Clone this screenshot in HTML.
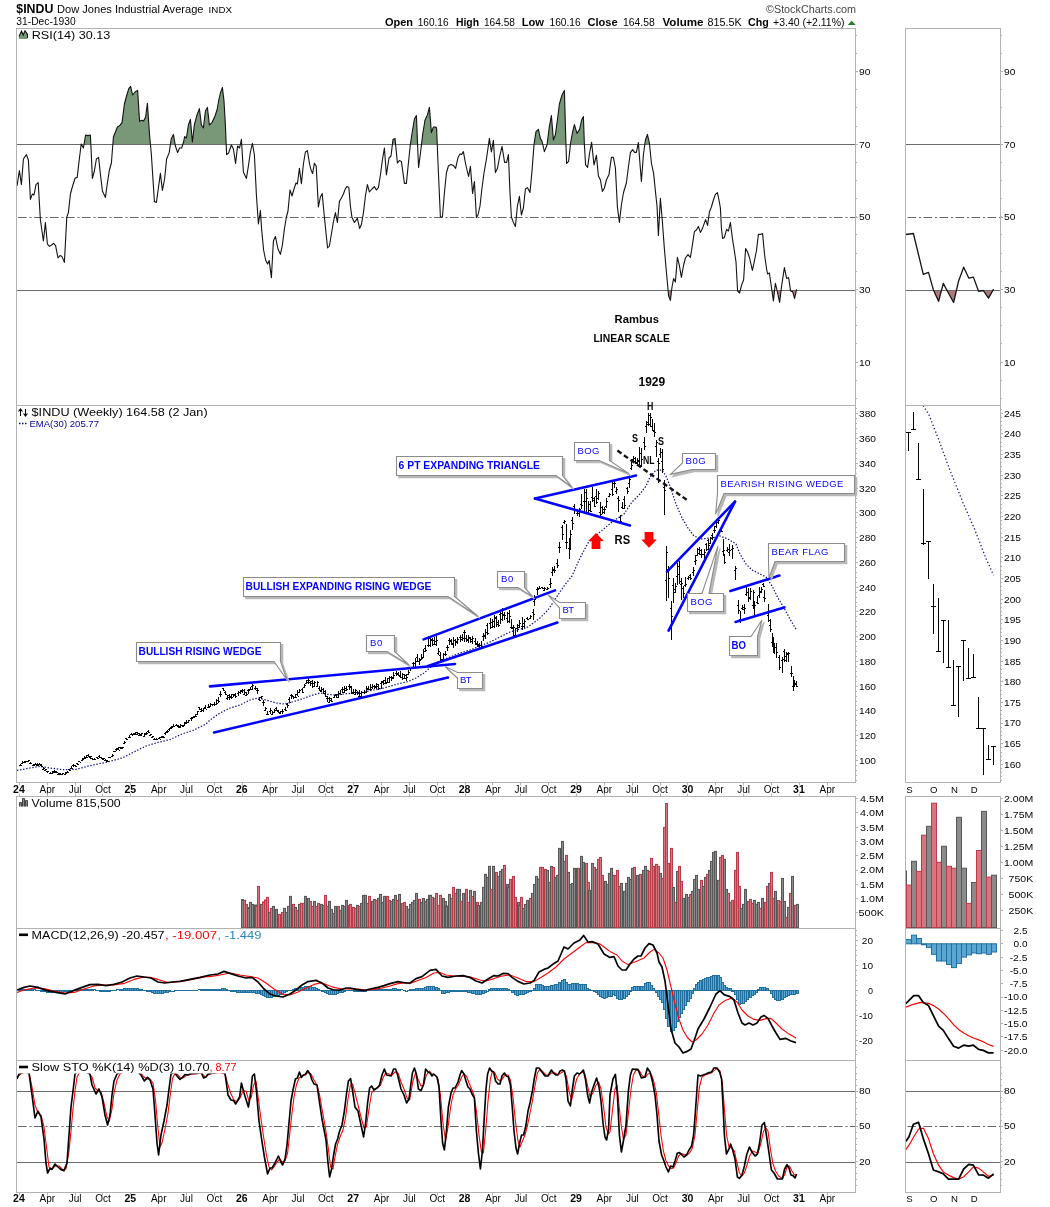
<!DOCTYPE html>
<html><head><meta charset="utf-8"><title>$INDU</title>
<style>html,body{margin:0;padding:0;background:#fff}svg{display:block}text{font-family:"Liberation Sans",sans-serif}</style>
</head><body>
<svg width="1050" height="1207" viewBox="0 0 1050 1207">
<rect width="1050" height="1207" fill="#fff"/>
<g opacity="0.99"><text x="16.3" y="13.4" font-size="12.5" font-weight="bold" fill="#000" text-anchor="start" textLength="37" lengthAdjust="spacingAndGlyphs" >$INDU</text><text x="57" y="13.4" font-size="11" font-weight="normal" fill="#000" text-anchor="start" textLength="146.5" lengthAdjust="spacingAndGlyphs" >Dow Jones Industrial Average</text><text x="208.6" y="13.4" font-size="9.5" font-weight="normal" fill="#000" text-anchor="start" textLength="23.4" lengthAdjust="spacingAndGlyphs" >INDX</text><text x="16.3" y="25.2" font-size="10" font-weight="normal" fill="#000" text-anchor="start" textLength="59.4" lengthAdjust="spacingAndGlyphs" >31-Dec-1930</text><text x="766" y="13" font-size="10" font-weight="normal" fill="#444" text-anchor="start" textLength="90" lengthAdjust="spacingAndGlyphs" >&#169;StockCharts.com</text><text x="385" y="26" font-size="11" font-weight="bold" fill="#000" text-anchor="start" textLength="28.1" lengthAdjust="spacingAndGlyphs" >Open</text><text x="417.7" y="26" font-size="10" font-weight="normal" fill="#000" text-anchor="start" textLength="30.9" lengthAdjust="spacingAndGlyphs" >160.16</text><text x="455.9" y="26" font-size="11" font-weight="bold" fill="#000" text-anchor="start" textLength="23.1" lengthAdjust="spacingAndGlyphs" >High</text><text x="484" y="26" font-size="10" font-weight="normal" fill="#000" text-anchor="start" textLength="30.9" lengthAdjust="spacingAndGlyphs" >164.58</text><text x="521.7" y="26" font-size="11" font-weight="bold" fill="#000" text-anchor="start" textLength="22.4" lengthAdjust="spacingAndGlyphs" >Low</text><text x="549.6" y="26" font-size="10" font-weight="normal" fill="#000" text-anchor="start" textLength="31" lengthAdjust="spacingAndGlyphs" >160.16</text><text x="587.5" y="26" font-size="11" font-weight="bold" fill="#000" text-anchor="start" textLength="30.2" lengthAdjust="spacingAndGlyphs" >Close</text><text x="623.1" y="26" font-size="10" font-weight="normal" fill="#000" text-anchor="start" textLength="31.6" lengthAdjust="spacingAndGlyphs" >164.58</text><text x="662.4" y="26" font-size="11" font-weight="bold" fill="#000" text-anchor="start" textLength="41.2" lengthAdjust="spacingAndGlyphs" >Volume</text><text x="707.6" y="26" font-size="10" font-weight="normal" fill="#000" text-anchor="start" textLength="34.1" lengthAdjust="spacingAndGlyphs" >815.5K</text><text x="748.1" y="26" font-size="11" font-weight="bold" fill="#000" text-anchor="start" textLength="20.7" lengthAdjust="spacingAndGlyphs" >Chg</text><text x="773.1" y="26" font-size="10" font-weight="normal" fill="#000" text-anchor="start" textLength="71.4" lengthAdjust="spacingAndGlyphs" >+3.40 (+2.11%)</text><polygon points="847.7,25 851.7,20.7 855.7,25" fill="#2a7a2a"/><clipPath id="c70"><rect x="16.5" y="28.5" width="839.0" height="116.0"/></clipPath><clipPath id="c30"><rect x="16.5" y="290.5" width="839.0" height="100"/></clipPath><polygon points="17.0,144.5 17.0,186.0 19.4,170.6 21.4,184.6 23.4,159.0 26.4,154.6 28.4,160.0 30.4,199.4 32.4,194.0 34.0,195.0 36.0,184.6 38.2,182.6 40.4,220.0 43.4,241.0 45.4,222.6 47.4,244.0 49.4,246.4 51.6,245.0 53.6,243.4 55.6,245.6 58.0,258.0 60.0,255.6 62.0,256.6 64.4,262.4 66.8,217.0 68.4,212.6 70.4,194.0 72.6,186.0 75.2,178.0 77.2,177.4 79.2,160.0 81.2,144.0 83.4,148.0 85.6,135.0 88.0,135.6 90.4,135.0 92.4,178.4 94.4,171.0 96.4,159.0 98.6,157.4 100.4,174.0 102.4,191.0 105.4,197.4 107.4,183.0 109.4,170.0 111.4,163.0 113.4,137.0 115.4,132.0 117.4,127.0 119.6,125.6 122.0,122.6 124.4,104.0 126.8,95.0 128.8,88.6 130.6,86.4 132.6,95.0 135.0,92.0 137.6,90.4 139.6,121.4 141.6,120.2 143.6,121.0 145.6,117.0 147.4,103.4 149.4,133.0 151.4,155.0 154.4,201.4 156.4,202.4 158.4,188.0 160.4,173.4 162.4,190.4 164.6,179.0 166.6,159.0 169.2,152.6 171.2,139.0 173.4,134.4 175.4,146.0 177.6,152.6 179.6,148.0 181.6,148.0 183.6,142.0 184.6,136.6 186.4,138.0 188.4,125.0 190.4,119.4 192.4,142.0 194.4,124.6 197.0,115.0 199.4,108.6 201.4,125.0 203.4,128.0 205.4,111.0 207.4,107.4 209.4,125.0 212.0,122.6 215.0,116.0 217.0,110.0 219.0,99.0 220.4,93.0 222.4,87.4 224.0,101.0 225.4,125.0 226.6,154.6 228.6,153.0 231.4,145.0 233.4,149.0 235.6,163.4 237.6,146.0 239.6,148.0 241.4,139.4 243.4,172.0 246.4,178.4 248.4,166.0 250.4,152.0 252.4,143.4 254.4,155.0 256.4,195.0 258.4,224.0 260.4,210.6 261.6,229.0 263.6,250.0 265.6,260.0 267.6,264.0 269.2,260.6 271.4,277.6 273.4,241.0 275.4,236.4 278.0,249.0 280.4,254.4 282.4,245.0 284.4,229.0 286.4,217.0 288.0,211.0 290.0,190.0 292.0,196.0 294.0,189.0 296.0,183.0 297.4,184.0 299.4,168.4 301.4,183.6 303.4,164.0 305.4,152.0 307.4,150.6 309.4,163.0 311.0,170.0 312.6,173.4 314.4,163.4 316.2,166.0 318.4,207.0 320.4,197.0 322.2,193.6 324.0,213.0 326.0,233.0 327.6,248.0 329.4,246.0 331.4,234.0 333.4,222.0 335.4,212.6 337.4,222.4 339.4,201.4 341.4,198.0 343.4,194.0 345.4,188.6 347.0,186.4 348.8,187.4 350.4,206.0 352.0,217.6 354.4,222.4 357.4,218.4 359.6,228.4 361.4,224.6 363.4,213.0 365.4,196.0 367.4,184.6 369.4,192.0 372.0,189.0 374.4,186.6 376.4,190.0 378.4,187.6 380.4,175.0 382.4,160.0 384.4,148.0 386.4,175.0 389.0,158.0 391.0,156.0 393.0,139.4 395.0,138.4 397.4,163.0 399.4,160.6 401.4,161.4 404.4,183.4 406.4,183.4 408.4,163.0 410.4,144.0 412.4,131.0 414.4,119.0 416.4,115.6 418.0,155.0 418.6,167.4 420.6,152.0 422.6,135.0 425.0,120.0 427.4,115.0 429.4,107.4 431.4,132.6 433.4,127.0 435.4,127.0 436.6,128.0 438.0,163.0 440.4,217.0 442.4,217.0 444.4,193.0 446.4,173.0 448.4,166.0 451.0,164.4 453.4,165.4 455.6,168.4 458.0,157.6 460.0,154.0 461.6,154.4 463.4,151.6 465.4,163.0 467.0,170.0 468.6,176.4 470.4,166.4 472.6,193.4 474.4,181.6 476.4,217.4 478.0,215.0 480.0,206.0 482.0,188.0 484.0,173.0 486.6,158.0 489.4,138.4 491.4,152.0 493.4,140.4 495.4,172.6 497.4,168.6 499.6,157.0 502.0,146.4 504.6,162.4 506.6,162.4 508.4,154.6 510.0,193.0 511.4,217.0 513.4,222.4 515.4,226.4 517.4,206.0 519.4,196.4 521.4,215.0 523.4,208.0 525.4,189.0 527.4,187.6 530.0,192.4 532.0,171.0 534.0,144.6 536.0,131.6 538.4,129.4 540.4,138.6 542.0,141.0 544.4,151.6 547.0,145.0 549.4,126.4 551.4,115.6 553.4,140.0 555.4,134.6 557.4,120.0 559.4,104.0 562.0,95.0 564.4,90.4 565.6,133.0 566.6,163.4 568.6,161.4 570.6,143.0 572.6,132.0 574.4,124.6 577.0,133.4 579.6,129.4 581.6,120.0 583.4,116.6 584.4,145.0 585.6,165.0 587.6,167.4 589.6,153.0 591.6,142.4 594.0,165.0 596.4,155.4 598.4,176.0 600.4,180.0 602.4,191.4 604.4,188.0 606.4,180.0 609.0,174.4 611.4,157.4 613.4,157.4 615.4,168.0 617.4,207.0 619.4,222.4 621.4,205.0 623.4,193.0 626.4,183.0 628.4,167.0 630.4,152.6 632.6,149.6 634.6,152.4 636.4,152.4 638.4,142.6 640.0,164.0 641.4,181.4 643.4,155.0 645.4,140.0 647.4,134.4 649.4,143.0 651.4,163.0 653.6,173.4 655.6,193.0 657.0,206.0 658.4,235.4 660.4,198.4 662.4,222.0 664.4,249.0 666.4,272.0 668.6,296.0 670.4,300.4 672.0,287.0 673.6,278.6 675.4,282.0 677.4,257.4 679.4,265.6 681.4,277.4 683.4,266.0 685.4,258.0 688.0,254.6 690.4,257.4 692.4,245.0 694.4,231.6 696.4,230.0 698.4,226.4 700.4,232.4 702.4,228.6 705.6,219.6 707.6,225.4 709.4,212.0 711.4,207.0 713.4,200.0 715.4,194.4 717.4,192.6 719.0,200.0 720.4,208.0 721.4,228.0 722.6,238.4 724.4,237.4 726.6,229.4 728.4,231.0 730.4,222.6 732.4,238.4 734.4,251.0 736.0,262.0 737.6,291.0 739.6,293.0 741.6,285.0 743.6,280.0 745.6,248.6 747.6,252.0 749.6,258.0 752.4,270.4 754.4,261.0 756.4,251.0 758.4,234.4 760.4,234.4 762.6,233.6 764.6,255.0 766.6,269.0 767.6,274.0 769.4,273.0 771.4,287.0 773.4,301.0 775.4,283.4 777.4,292.0 779.6,302.4 781.6,286.0 784.4,267.6 786.6,278.4 788.6,277.6 790.6,291.0 792.6,291.6 794.6,298.4 796.6,289.4 796.6,144.5" fill="#779777" clip-path="url(#c70)"/><polygon points="17.0,290.5 17.0,186.0 19.4,170.6 21.4,184.6 23.4,159.0 26.4,154.6 28.4,160.0 30.4,199.4 32.4,194.0 34.0,195.0 36.0,184.6 38.2,182.6 40.4,220.0 43.4,241.0 45.4,222.6 47.4,244.0 49.4,246.4 51.6,245.0 53.6,243.4 55.6,245.6 58.0,258.0 60.0,255.6 62.0,256.6 64.4,262.4 66.8,217.0 68.4,212.6 70.4,194.0 72.6,186.0 75.2,178.0 77.2,177.4 79.2,160.0 81.2,144.0 83.4,148.0 85.6,135.0 88.0,135.6 90.4,135.0 92.4,178.4 94.4,171.0 96.4,159.0 98.6,157.4 100.4,174.0 102.4,191.0 105.4,197.4 107.4,183.0 109.4,170.0 111.4,163.0 113.4,137.0 115.4,132.0 117.4,127.0 119.6,125.6 122.0,122.6 124.4,104.0 126.8,95.0 128.8,88.6 130.6,86.4 132.6,95.0 135.0,92.0 137.6,90.4 139.6,121.4 141.6,120.2 143.6,121.0 145.6,117.0 147.4,103.4 149.4,133.0 151.4,155.0 154.4,201.4 156.4,202.4 158.4,188.0 160.4,173.4 162.4,190.4 164.6,179.0 166.6,159.0 169.2,152.6 171.2,139.0 173.4,134.4 175.4,146.0 177.6,152.6 179.6,148.0 181.6,148.0 183.6,142.0 184.6,136.6 186.4,138.0 188.4,125.0 190.4,119.4 192.4,142.0 194.4,124.6 197.0,115.0 199.4,108.6 201.4,125.0 203.4,128.0 205.4,111.0 207.4,107.4 209.4,125.0 212.0,122.6 215.0,116.0 217.0,110.0 219.0,99.0 220.4,93.0 222.4,87.4 224.0,101.0 225.4,125.0 226.6,154.6 228.6,153.0 231.4,145.0 233.4,149.0 235.6,163.4 237.6,146.0 239.6,148.0 241.4,139.4 243.4,172.0 246.4,178.4 248.4,166.0 250.4,152.0 252.4,143.4 254.4,155.0 256.4,195.0 258.4,224.0 260.4,210.6 261.6,229.0 263.6,250.0 265.6,260.0 267.6,264.0 269.2,260.6 271.4,277.6 273.4,241.0 275.4,236.4 278.0,249.0 280.4,254.4 282.4,245.0 284.4,229.0 286.4,217.0 288.0,211.0 290.0,190.0 292.0,196.0 294.0,189.0 296.0,183.0 297.4,184.0 299.4,168.4 301.4,183.6 303.4,164.0 305.4,152.0 307.4,150.6 309.4,163.0 311.0,170.0 312.6,173.4 314.4,163.4 316.2,166.0 318.4,207.0 320.4,197.0 322.2,193.6 324.0,213.0 326.0,233.0 327.6,248.0 329.4,246.0 331.4,234.0 333.4,222.0 335.4,212.6 337.4,222.4 339.4,201.4 341.4,198.0 343.4,194.0 345.4,188.6 347.0,186.4 348.8,187.4 350.4,206.0 352.0,217.6 354.4,222.4 357.4,218.4 359.6,228.4 361.4,224.6 363.4,213.0 365.4,196.0 367.4,184.6 369.4,192.0 372.0,189.0 374.4,186.6 376.4,190.0 378.4,187.6 380.4,175.0 382.4,160.0 384.4,148.0 386.4,175.0 389.0,158.0 391.0,156.0 393.0,139.4 395.0,138.4 397.4,163.0 399.4,160.6 401.4,161.4 404.4,183.4 406.4,183.4 408.4,163.0 410.4,144.0 412.4,131.0 414.4,119.0 416.4,115.6 418.0,155.0 418.6,167.4 420.6,152.0 422.6,135.0 425.0,120.0 427.4,115.0 429.4,107.4 431.4,132.6 433.4,127.0 435.4,127.0 436.6,128.0 438.0,163.0 440.4,217.0 442.4,217.0 444.4,193.0 446.4,173.0 448.4,166.0 451.0,164.4 453.4,165.4 455.6,168.4 458.0,157.6 460.0,154.0 461.6,154.4 463.4,151.6 465.4,163.0 467.0,170.0 468.6,176.4 470.4,166.4 472.6,193.4 474.4,181.6 476.4,217.4 478.0,215.0 480.0,206.0 482.0,188.0 484.0,173.0 486.6,158.0 489.4,138.4 491.4,152.0 493.4,140.4 495.4,172.6 497.4,168.6 499.6,157.0 502.0,146.4 504.6,162.4 506.6,162.4 508.4,154.6 510.0,193.0 511.4,217.0 513.4,222.4 515.4,226.4 517.4,206.0 519.4,196.4 521.4,215.0 523.4,208.0 525.4,189.0 527.4,187.6 530.0,192.4 532.0,171.0 534.0,144.6 536.0,131.6 538.4,129.4 540.4,138.6 542.0,141.0 544.4,151.6 547.0,145.0 549.4,126.4 551.4,115.6 553.4,140.0 555.4,134.6 557.4,120.0 559.4,104.0 562.0,95.0 564.4,90.4 565.6,133.0 566.6,163.4 568.6,161.4 570.6,143.0 572.6,132.0 574.4,124.6 577.0,133.4 579.6,129.4 581.6,120.0 583.4,116.6 584.4,145.0 585.6,165.0 587.6,167.4 589.6,153.0 591.6,142.4 594.0,165.0 596.4,155.4 598.4,176.0 600.4,180.0 602.4,191.4 604.4,188.0 606.4,180.0 609.0,174.4 611.4,157.4 613.4,157.4 615.4,168.0 617.4,207.0 619.4,222.4 621.4,205.0 623.4,193.0 626.4,183.0 628.4,167.0 630.4,152.6 632.6,149.6 634.6,152.4 636.4,152.4 638.4,142.6 640.0,164.0 641.4,181.4 643.4,155.0 645.4,140.0 647.4,134.4 649.4,143.0 651.4,163.0 653.6,173.4 655.6,193.0 657.0,206.0 658.4,235.4 660.4,198.4 662.4,222.0 664.4,249.0 666.4,272.0 668.6,296.0 670.4,300.4 672.0,287.0 673.6,278.6 675.4,282.0 677.4,257.4 679.4,265.6 681.4,277.4 683.4,266.0 685.4,258.0 688.0,254.6 690.4,257.4 692.4,245.0 694.4,231.6 696.4,230.0 698.4,226.4 700.4,232.4 702.4,228.6 705.6,219.6 707.6,225.4 709.4,212.0 711.4,207.0 713.4,200.0 715.4,194.4 717.4,192.6 719.0,200.0 720.4,208.0 721.4,228.0 722.6,238.4 724.4,237.4 726.6,229.4 728.4,231.0 730.4,222.6 732.4,238.4 734.4,251.0 736.0,262.0 737.6,291.0 739.6,293.0 741.6,285.0 743.6,280.0 745.6,248.6 747.6,252.0 749.6,258.0 752.4,270.4 754.4,261.0 756.4,251.0 758.4,234.4 760.4,234.4 762.6,233.6 764.6,255.0 766.6,269.0 767.6,274.0 769.4,273.0 771.4,287.0 773.4,301.0 775.4,283.4 777.4,292.0 779.6,302.4 781.6,286.0 784.4,267.6 786.6,278.4 788.6,277.6 790.6,291.0 792.6,291.6 794.6,298.4 796.6,289.4 796.6,290.5" fill="#b07878" clip-path="url(#c30)"/><clipPath id="c30s"><rect x="905.5" y="290.5" width="95.0" height="100"/></clipPath><polygon points="905.8,290.5 905.8,234.5 913.4,233.5 923.3,274.3 928.5,272.4 933.4,289.9 938.6,301.3 943.3,283.4 948.5,293.3 953.6,302.5 958.6,281.0 963.7,267.2 968.7,278.1 973.4,277.1 978.6,291.4 983.3,290.5 988.5,298.1 993.6,289.1 993.6,290.5" fill="#b07878" clip-path="url(#c30s)"/><line x1="16.5" y1="144.5" x2="855.5" y2="144.5" stroke="#6a6a6a" stroke-width="1"/><line x1="905.5" y1="144.5" x2="1000.5" y2="144.5" stroke="#6a6a6a" stroke-width="1"/><line x1="16.5" y1="290.5" x2="855.5" y2="290.5" stroke="#6a6a6a" stroke-width="1"/><line x1="905.5" y1="290.5" x2="1000.5" y2="290.5" stroke="#6a6a6a" stroke-width="1"/><line x1="18.0" y1="217.5" x2="855.5" y2="217.5" stroke="#666" stroke-width="1" stroke-dasharray="8.5,3,2,2.5"/><line x1="907.5" y1="217.5" x2="1000.5" y2="217.5" stroke="#666" stroke-width="1" stroke-dasharray="8.5,3,2,2.5"/><polyline points="17.0,186.0 19.4,170.6 21.4,184.6 23.4,159.0 26.4,154.6 28.4,160.0 30.4,199.4 32.4,194.0 34.0,195.0 36.0,184.6 38.2,182.6 40.4,220.0 43.4,241.0 45.4,222.6 47.4,244.0 49.4,246.4 51.6,245.0 53.6,243.4 55.6,245.6 58.0,258.0 60.0,255.6 62.0,256.6 64.4,262.4 66.8,217.0 68.4,212.6 70.4,194.0 72.6,186.0 75.2,178.0 77.2,177.4 79.2,160.0 81.2,144.0 83.4,148.0 85.6,135.0 88.0,135.6 90.4,135.0 92.4,178.4 94.4,171.0 96.4,159.0 98.6,157.4 100.4,174.0 102.4,191.0 105.4,197.4 107.4,183.0 109.4,170.0 111.4,163.0 113.4,137.0 115.4,132.0 117.4,127.0 119.6,125.6 122.0,122.6 124.4,104.0 126.8,95.0 128.8,88.6 130.6,86.4 132.6,95.0 135.0,92.0 137.6,90.4 139.6,121.4 141.6,120.2 143.6,121.0 145.6,117.0 147.4,103.4 149.4,133.0 151.4,155.0 154.4,201.4 156.4,202.4 158.4,188.0 160.4,173.4 162.4,190.4 164.6,179.0 166.6,159.0 169.2,152.6 171.2,139.0 173.4,134.4 175.4,146.0 177.6,152.6 179.6,148.0 181.6,148.0 183.6,142.0 184.6,136.6 186.4,138.0 188.4,125.0 190.4,119.4 192.4,142.0 194.4,124.6 197.0,115.0 199.4,108.6 201.4,125.0 203.4,128.0 205.4,111.0 207.4,107.4 209.4,125.0 212.0,122.6 215.0,116.0 217.0,110.0 219.0,99.0 220.4,93.0 222.4,87.4 224.0,101.0 225.4,125.0 226.6,154.6 228.6,153.0 231.4,145.0 233.4,149.0 235.6,163.4 237.6,146.0 239.6,148.0 241.4,139.4 243.4,172.0 246.4,178.4 248.4,166.0 250.4,152.0 252.4,143.4 254.4,155.0 256.4,195.0 258.4,224.0 260.4,210.6 261.6,229.0 263.6,250.0 265.6,260.0 267.6,264.0 269.2,260.6 271.4,277.6 273.4,241.0 275.4,236.4 278.0,249.0 280.4,254.4 282.4,245.0 284.4,229.0 286.4,217.0 288.0,211.0 290.0,190.0 292.0,196.0 294.0,189.0 296.0,183.0 297.4,184.0 299.4,168.4 301.4,183.6 303.4,164.0 305.4,152.0 307.4,150.6 309.4,163.0 311.0,170.0 312.6,173.4 314.4,163.4 316.2,166.0 318.4,207.0 320.4,197.0 322.2,193.6 324.0,213.0 326.0,233.0 327.6,248.0 329.4,246.0 331.4,234.0 333.4,222.0 335.4,212.6 337.4,222.4 339.4,201.4 341.4,198.0 343.4,194.0 345.4,188.6 347.0,186.4 348.8,187.4 350.4,206.0 352.0,217.6 354.4,222.4 357.4,218.4 359.6,228.4 361.4,224.6 363.4,213.0 365.4,196.0 367.4,184.6 369.4,192.0 372.0,189.0 374.4,186.6 376.4,190.0 378.4,187.6 380.4,175.0 382.4,160.0 384.4,148.0 386.4,175.0 389.0,158.0 391.0,156.0 393.0,139.4 395.0,138.4 397.4,163.0 399.4,160.6 401.4,161.4 404.4,183.4 406.4,183.4 408.4,163.0 410.4,144.0 412.4,131.0 414.4,119.0 416.4,115.6 418.0,155.0 418.6,167.4 420.6,152.0 422.6,135.0 425.0,120.0 427.4,115.0 429.4,107.4 431.4,132.6 433.4,127.0 435.4,127.0 436.6,128.0 438.0,163.0 440.4,217.0 442.4,217.0 444.4,193.0 446.4,173.0 448.4,166.0 451.0,164.4 453.4,165.4 455.6,168.4 458.0,157.6 460.0,154.0 461.6,154.4 463.4,151.6 465.4,163.0 467.0,170.0 468.6,176.4 470.4,166.4 472.6,193.4 474.4,181.6 476.4,217.4 478.0,215.0 480.0,206.0 482.0,188.0 484.0,173.0 486.6,158.0 489.4,138.4 491.4,152.0 493.4,140.4 495.4,172.6 497.4,168.6 499.6,157.0 502.0,146.4 504.6,162.4 506.6,162.4 508.4,154.6 510.0,193.0 511.4,217.0 513.4,222.4 515.4,226.4 517.4,206.0 519.4,196.4 521.4,215.0 523.4,208.0 525.4,189.0 527.4,187.6 530.0,192.4 532.0,171.0 534.0,144.6 536.0,131.6 538.4,129.4 540.4,138.6 542.0,141.0 544.4,151.6 547.0,145.0 549.4,126.4 551.4,115.6 553.4,140.0 555.4,134.6 557.4,120.0 559.4,104.0 562.0,95.0 564.4,90.4 565.6,133.0 566.6,163.4 568.6,161.4 570.6,143.0 572.6,132.0 574.4,124.6 577.0,133.4 579.6,129.4 581.6,120.0 583.4,116.6 584.4,145.0 585.6,165.0 587.6,167.4 589.6,153.0 591.6,142.4 594.0,165.0 596.4,155.4 598.4,176.0 600.4,180.0 602.4,191.4 604.4,188.0 606.4,180.0 609.0,174.4 611.4,157.4 613.4,157.4 615.4,168.0 617.4,207.0 619.4,222.4 621.4,205.0 623.4,193.0 626.4,183.0 628.4,167.0 630.4,152.6 632.6,149.6 634.6,152.4 636.4,152.4 638.4,142.6 640.0,164.0 641.4,181.4 643.4,155.0 645.4,140.0 647.4,134.4 649.4,143.0 651.4,163.0 653.6,173.4 655.6,193.0 657.0,206.0 658.4,235.4 660.4,198.4 662.4,222.0 664.4,249.0 666.4,272.0 668.6,296.0 670.4,300.4 672.0,287.0 673.6,278.6 675.4,282.0 677.4,257.4 679.4,265.6 681.4,277.4 683.4,266.0 685.4,258.0 688.0,254.6 690.4,257.4 692.4,245.0 694.4,231.6 696.4,230.0 698.4,226.4 700.4,232.4 702.4,228.6 705.6,219.6 707.6,225.4 709.4,212.0 711.4,207.0 713.4,200.0 715.4,194.4 717.4,192.6 719.0,200.0 720.4,208.0 721.4,228.0 722.6,238.4 724.4,237.4 726.6,229.4 728.4,231.0 730.4,222.6 732.4,238.4 734.4,251.0 736.0,262.0 737.6,291.0 739.6,293.0 741.6,285.0 743.6,280.0 745.6,248.6 747.6,252.0 749.6,258.0 752.4,270.4 754.4,261.0 756.4,251.0 758.4,234.4 760.4,234.4 762.6,233.6 764.6,255.0 766.6,269.0 767.6,274.0 769.4,273.0 771.4,287.0 773.4,301.0 775.4,283.4 777.4,292.0 779.6,302.4 781.6,286.0 784.4,267.6 786.6,278.4 788.6,277.6 790.6,291.0 792.6,291.6 794.6,298.4 796.6,289.4" fill="none" stroke="#111" stroke-width="1.1" stroke-linejoin="round"/><polyline points="905.8,234.5 913.4,233.5 923.3,274.3 928.5,272.4 933.4,289.9 938.6,301.3 943.3,283.4 948.5,293.3 953.6,302.5 958.6,281.0 963.7,267.2 968.7,278.1 973.4,277.1 978.6,291.4 983.3,290.5 988.5,298.1 993.6,289.1" fill="none" stroke="#111" stroke-width="1.3" stroke-linejoin="round"/><text x="859" y="75.18999999999997" font-size="9.2" font-weight="normal" fill="#000" text-anchor="start" textLength="11.4" lengthAdjust="spacingAndGlyphs" >90</text><text x="1004" y="75.18999999999997" font-size="9.2" font-weight="normal" fill="#000" text-anchor="start" textLength="11.4" lengthAdjust="spacingAndGlyphs" >90</text><text x="859" y="147.76999999999998" font-size="9.2" font-weight="normal" fill="#000" text-anchor="start" textLength="11.4" lengthAdjust="spacingAndGlyphs" >70</text><text x="1004" y="147.76999999999998" font-size="9.2" font-weight="normal" fill="#000" text-anchor="start" textLength="11.4" lengthAdjust="spacingAndGlyphs" >70</text><text x="859" y="220.35" font-size="9.2" font-weight="normal" fill="#000" text-anchor="start" textLength="11.4" lengthAdjust="spacingAndGlyphs" >50</text><text x="1004" y="220.35" font-size="9.2" font-weight="normal" fill="#000" text-anchor="start" textLength="11.4" lengthAdjust="spacingAndGlyphs" >50</text><text x="859" y="292.92999999999995" font-size="9.2" font-weight="normal" fill="#000" text-anchor="start" textLength="11.4" lengthAdjust="spacingAndGlyphs" >30</text><text x="1004" y="292.92999999999995" font-size="9.2" font-weight="normal" fill="#000" text-anchor="start" textLength="11.4" lengthAdjust="spacingAndGlyphs" >30</text><text x="859" y="365.50999999999993" font-size="9.2" font-weight="normal" fill="#000" text-anchor="start" textLength="11.4" lengthAdjust="spacingAndGlyphs" >10</text><text x="1004" y="365.50999999999993" font-size="9.2" font-weight="normal" fill="#000" text-anchor="start" textLength="11.4" lengthAdjust="spacingAndGlyphs" >10</text><path d="M18.8,39 L19,36.5 L21.5,31 L23.2,35 L25,30.8 L27.5,33.5 L27.5,39 Z" fill="#779777"/><path d="M19,36.5 L21.5,31 L23.2,35 L25,30.8 L27.5,34.5 V38" fill="none" stroke="#111" stroke-width="1.1"/><text x="31.7" y="38.7" font-size="10" font-weight="normal" fill="#000" text-anchor="start" textLength="78.6" lengthAdjust="spacingAndGlyphs" >RSI(14) 30.13</text><text x="614.6" y="322.9" font-size="11" font-weight="bold" fill="#000" text-anchor="start" textLength="44.4" lengthAdjust="spacingAndGlyphs" >Rambus</text><text x="593.5" y="341.9" font-size="11" font-weight="bold" fill="#000" text-anchor="start" textLength="76.5" lengthAdjust="spacingAndGlyphs" >LINEAR SCALE</text><text x="638.5" y="385.8" font-size="12" font-weight="bold" fill="#000" text-anchor="start" textLength="26.7" lengthAdjust="spacingAndGlyphs" >1929</text><path d="M856.0,35.5h1 M856.0,53.5h1 M856.0,71.5h1 M856.0,89.5h1 M856.0,107.5h1 M856.0,126.5h1 M856.0,144.5h1 M856.0,162.5h1 M856.0,180.5h1 M856.0,198.5h1 M856.0,216.5h1 M856.0,234.5h1 M856.0,253.5h1 M856.0,271.5h1 M856.0,289.5h1 M856.0,307.5h1 M856.0,325.5h1 M856.0,343.5h1 M856.0,362.5h1 M856.0,380.5h1 M856.0,398.5h1 M856.0,71.5h2 M856.0,144.5h2 M856.0,217.5h2 M856.0,289.5h2 M856.0,362.5h2" stroke="#b2b2b2" stroke-width="1" fill="none" shape-rendering="crispEdges"/><path d="M1001.0,35.5h1 M1001.0,53.5h1 M1001.0,71.5h1 M1001.0,89.5h1 M1001.0,107.5h1 M1001.0,126.5h1 M1001.0,144.5h1 M1001.0,162.5h1 M1001.0,180.5h1 M1001.0,198.5h1 M1001.0,216.5h1 M1001.0,234.5h1 M1001.0,253.5h1 M1001.0,271.5h1 M1001.0,289.5h1 M1001.0,307.5h1 M1001.0,325.5h1 M1001.0,343.5h1 M1001.0,362.5h1 M1001.0,380.5h1 M1001.0,398.5h1 M1001.0,71.5h2 M1001.0,144.5h2 M1001.0,217.5h2 M1001.0,289.5h2 M1001.0,362.5h2" stroke="#b2b2b2" stroke-width="1" fill="none" shape-rendering="crispEdges"/><text x="859" y="763.8" font-size="9.2" font-weight="normal" fill="#000" text-anchor="start" textLength="17" lengthAdjust="spacingAndGlyphs" >100</text><text x="859" y="739.05" font-size="9.2" font-weight="normal" fill="#000" text-anchor="start" textLength="17" lengthAdjust="spacingAndGlyphs" >120</text><text x="859" y="714.3" font-size="9.2" font-weight="normal" fill="#000" text-anchor="start" textLength="17" lengthAdjust="spacingAndGlyphs" >140</text><text x="859" y="689.55" font-size="9.2" font-weight="normal" fill="#000" text-anchor="start" textLength="17" lengthAdjust="spacingAndGlyphs" >160</text><text x="859" y="664.8" font-size="9.2" font-weight="normal" fill="#000" text-anchor="start" textLength="17" lengthAdjust="spacingAndGlyphs" >180</text><text x="859" y="640.05" font-size="9.2" font-weight="normal" fill="#000" text-anchor="start" textLength="17" lengthAdjust="spacingAndGlyphs" >200</text><text x="859" y="615.3" font-size="9.2" font-weight="normal" fill="#000" text-anchor="start" textLength="17" lengthAdjust="spacingAndGlyphs" >220</text><text x="859" y="590.55" font-size="9.2" font-weight="normal" fill="#000" text-anchor="start" textLength="17" lengthAdjust="spacingAndGlyphs" >240</text><text x="859" y="565.8" font-size="9.2" font-weight="normal" fill="#000" text-anchor="start" textLength="17" lengthAdjust="spacingAndGlyphs" >260</text><text x="859" y="541.05" font-size="9.2" font-weight="normal" fill="#000" text-anchor="start" textLength="17" lengthAdjust="spacingAndGlyphs" >280</text><text x="859" y="516.3" font-size="9.2" font-weight="normal" fill="#000" text-anchor="start" textLength="17" lengthAdjust="spacingAndGlyphs" >300</text><text x="859" y="491.54999999999995" font-size="9.2" font-weight="normal" fill="#000" text-anchor="start" textLength="17" lengthAdjust="spacingAndGlyphs" >320</text><text x="859" y="466.79999999999995" font-size="9.2" font-weight="normal" fill="#000" text-anchor="start" textLength="17" lengthAdjust="spacingAndGlyphs" >340</text><text x="859" y="442.04999999999995" font-size="9.2" font-weight="normal" fill="#000" text-anchor="start" textLength="17" lengthAdjust="spacingAndGlyphs" >360</text><text x="859" y="417.29999999999995" font-size="9.2" font-weight="normal" fill="#000" text-anchor="start" textLength="17" lengthAdjust="spacingAndGlyphs" >380</text><text x="1004" y="767.8" font-size="9.2" font-weight="normal" fill="#000" text-anchor="start" textLength="17" lengthAdjust="spacingAndGlyphs" >160</text><text x="1004" y="747.14" font-size="9.2" font-weight="normal" fill="#000" text-anchor="start" textLength="17" lengthAdjust="spacingAndGlyphs" >165</text><text x="1004" y="726.4799999999999" font-size="9.2" font-weight="normal" fill="#000" text-anchor="start" textLength="17" lengthAdjust="spacingAndGlyphs" >170</text><text x="1004" y="705.8199999999999" font-size="9.2" font-weight="normal" fill="#000" text-anchor="start" textLength="17" lengthAdjust="spacingAndGlyphs" >175</text><text x="1004" y="685.16" font-size="9.2" font-weight="normal" fill="#000" text-anchor="start" textLength="17" lengthAdjust="spacingAndGlyphs" >180</text><text x="1004" y="664.5" font-size="9.2" font-weight="normal" fill="#000" text-anchor="start" textLength="17" lengthAdjust="spacingAndGlyphs" >185</text><text x="1004" y="643.8399999999999" font-size="9.2" font-weight="normal" fill="#000" text-anchor="start" textLength="17" lengthAdjust="spacingAndGlyphs" >190</text><text x="1004" y="623.18" font-size="9.2" font-weight="normal" fill="#000" text-anchor="start" textLength="17" lengthAdjust="spacingAndGlyphs" >195</text><text x="1004" y="602.52" font-size="9.2" font-weight="normal" fill="#000" text-anchor="start" textLength="17" lengthAdjust="spacingAndGlyphs" >200</text><text x="1004" y="581.86" font-size="9.2" font-weight="normal" fill="#000" text-anchor="start" textLength="17" lengthAdjust="spacingAndGlyphs" >205</text><text x="1004" y="561.1999999999999" font-size="9.2" font-weight="normal" fill="#000" text-anchor="start" textLength="17" lengthAdjust="spacingAndGlyphs" >210</text><text x="1004" y="540.54" font-size="9.2" font-weight="normal" fill="#000" text-anchor="start" textLength="17" lengthAdjust="spacingAndGlyphs" >215</text><text x="1004" y="519.88" font-size="9.2" font-weight="normal" fill="#000" text-anchor="start" textLength="17" lengthAdjust="spacingAndGlyphs" >220</text><text x="1004" y="499.21999999999997" font-size="9.2" font-weight="normal" fill="#000" text-anchor="start" textLength="17" lengthAdjust="spacingAndGlyphs" >225</text><text x="1004" y="478.56" font-size="9.2" font-weight="normal" fill="#000" text-anchor="start" textLength="17" lengthAdjust="spacingAndGlyphs" >230</text><text x="1004" y="457.9" font-size="9.2" font-weight="normal" fill="#000" text-anchor="start" textLength="17" lengthAdjust="spacingAndGlyphs" >235</text><text x="1004" y="437.24" font-size="9.2" font-weight="normal" fill="#000" text-anchor="start" textLength="17" lengthAdjust="spacingAndGlyphs" >240</text><text x="1004" y="416.58" font-size="9.2" font-weight="normal" fill="#000" text-anchor="start" textLength="17" lengthAdjust="spacingAndGlyphs" >245</text><path d="M856.0,408.5h1 M856.0,413.5h1 M856.0,418.5h1 M856.0,423.5h1 M856.0,428.5h1 M856.0,433.5h1 M856.0,438.5h1 M856.0,443.5h1 M856.0,448.5h1 M856.0,453.5h1 M856.0,458.5h1 M856.0,463.5h1 M856.0,468.5h1 M856.0,473.5h1 M856.0,478.5h1 M856.0,483.5h1 M856.0,488.5h1 M856.0,493.5h1 M856.0,498.5h1 M856.0,502.5h1 M856.0,507.5h1 M856.0,512.5h1 M856.0,517.5h1 M856.0,522.5h1 M856.0,527.5h1 M856.0,532.5h1 M856.0,537.5h1 M856.0,542.5h1 M856.0,547.5h1 M856.0,552.5h1 M856.0,557.5h1 M856.0,562.5h1 M856.0,567.5h1 M856.0,572.5h1 M856.0,577.5h1 M856.0,582.5h1 M856.0,587.5h1 M856.0,592.5h1 M856.0,597.5h1 M856.0,602.5h1 M856.0,606.5h1 M856.0,611.5h1 M856.0,616.5h1 M856.0,621.5h1 M856.0,626.5h1 M856.0,631.5h1 M856.0,636.5h1 M856.0,641.5h1 M856.0,646.5h1 M856.0,651.5h1 M856.0,656.5h1 M856.0,661.5h1 M856.0,666.5h1 M856.0,671.5h1 M856.0,676.5h1 M856.0,681.5h1 M856.0,686.5h1 M856.0,691.5h1 M856.0,696.5h1 M856.0,701.5h1 M856.0,705.5h1 M856.0,710.5h1 M856.0,715.5h1 M856.0,720.5h1 M856.0,725.5h1 M856.0,730.5h1 M856.0,735.5h1 M856.0,740.5h1 M856.0,745.5h1 M856.0,750.5h1 M856.0,755.5h1 M856.0,760.5h1 M856.0,765.5h1 M856.0,770.5h1 M856.0,775.5h1 M856.0,780.5h1 M856.0,760.5h2 M856.0,735.5h2 M856.0,710.5h2 M856.0,686.5h2 M856.0,661.5h2 M856.0,636.5h2 M856.0,611.5h2 M856.0,587.5h2 M856.0,562.5h2 M856.0,537.5h2 M856.0,512.5h2 M856.0,488.5h2 M856.0,463.5h2 M856.0,438.5h2 M856.0,413.5h2" stroke="#b2b2b2" stroke-width="1" fill="none" shape-rendering="crispEdges"/><path d="M1001.0,409.5h1 M1001.0,413.5h1 M1001.0,417.5h1 M1001.0,421.5h1 M1001.0,425.5h1 M1001.0,429.5h1 M1001.0,433.5h1 M1001.0,437.5h1 M1001.0,442.5h1 M1001.0,446.5h1 M1001.0,450.5h1 M1001.0,454.5h1 M1001.0,458.5h1 M1001.0,462.5h1 M1001.0,466.5h1 M1001.0,471.5h1 M1001.0,475.5h1 M1001.0,479.5h1 M1001.0,483.5h1 M1001.0,487.5h1 M1001.0,491.5h1 M1001.0,495.5h1 M1001.0,499.5h1 M1001.0,504.5h1 M1001.0,508.5h1 M1001.0,512.5h1 M1001.0,516.5h1 M1001.0,520.5h1 M1001.0,524.5h1 M1001.0,528.5h1 M1001.0,533.5h1 M1001.0,537.5h1 M1001.0,541.5h1 M1001.0,545.5h1 M1001.0,549.5h1 M1001.0,553.5h1 M1001.0,557.5h1 M1001.0,561.5h1 M1001.0,566.5h1 M1001.0,570.5h1 M1001.0,574.5h1 M1001.0,578.5h1 M1001.0,582.5h1 M1001.0,586.5h1 M1001.0,590.5h1 M1001.0,594.5h1 M1001.0,599.5h1 M1001.0,603.5h1 M1001.0,607.5h1 M1001.0,611.5h1 M1001.0,615.5h1 M1001.0,619.5h1 M1001.0,623.5h1 M1001.0,628.5h1 M1001.0,632.5h1 M1001.0,636.5h1 M1001.0,640.5h1 M1001.0,644.5h1 M1001.0,648.5h1 M1001.0,652.5h1 M1001.0,656.5h1 M1001.0,661.5h1 M1001.0,665.5h1 M1001.0,669.5h1 M1001.0,673.5h1 M1001.0,677.5h1 M1001.0,681.5h1 M1001.0,685.5h1 M1001.0,690.5h1 M1001.0,694.5h1 M1001.0,698.5h1 M1001.0,702.5h1 M1001.0,706.5h1 M1001.0,710.5h1 M1001.0,714.5h1 M1001.0,718.5h1 M1001.0,723.5h1 M1001.0,727.5h1 M1001.0,731.5h1 M1001.0,735.5h1 M1001.0,739.5h1 M1001.0,743.5h1 M1001.0,747.5h1 M1001.0,752.5h1 M1001.0,756.5h1 M1001.0,760.5h1 M1001.0,764.5h1 M1001.0,768.5h1 M1001.0,772.5h1 M1001.0,776.5h1 M1001.0,780.5h1 M1001.0,764.5h2 M1001.0,743.5h2 M1001.0,723.5h2 M1001.0,702.5h2 M1001.0,681.5h2 M1001.0,661.5h2 M1001.0,640.5h2 M1001.0,619.5h2 M1001.0,599.5h2 M1001.0,578.5h2 M1001.0,557.5h2 M1001.0,537.5h2 M1001.0,516.5h2 M1001.0,495.5h2 M1001.0,475.5h2 M1001.0,454.5h2 M1001.0,433.5h2 M1001.0,413.5h2" stroke="#b2b2b2" stroke-width="1" fill="none" shape-rendering="crispEdges"/><polyline points="17.0,770.4 30.0,768.0 40.0,766.4 50.0,768.0 62.0,769.6 76.0,769.4 90.0,765.6 106.0,762.4 122.0,758.0 134.0,752.0 146.0,746.0 158.0,742.4 170.0,739.6 182.0,734.0 194.0,730.0 206.0,724.0 210.0,720.0 220.0,713.0 230.0,708.0 240.0,705.0 250.0,700.0 258.0,698.0 266.0,700.0 276.0,703.0 284.0,704.0 292.0,702.0 302.0,699.0 310.0,696.0 320.0,693.0 328.0,694.4 336.0,695.0 344.0,694.0 354.0,693.0 364.0,692.0 374.0,690.0 384.0,688.0 394.0,685.0 408.0,681.6 416.0,678.0 424.0,673.0 432.0,666.0 440.0,661.0 450.0,657.0 460.0,653.0 470.0,650.0 480.0,646.0 490.0,642.0 500.0,637.0 510.0,632.0 520.0,629.0 526.0,628.0 532.0,624.0 540.0,618.0 548.0,610.0 556.0,598.0 564.0,586.0 572.0,576.0 580.0,558.0 588.0,543.0 600.0,532.0 612.0,522.0 624.0,514.0 632.0,502.0 640.0,494.0 646.0,486.0 650.0,477.0 656.0,470.0 662.0,470.0 666.0,476.0 670.0,486.0 676.0,504.0 682.0,518.0 688.0,528.0 694.0,536.0 702.0,539.0 710.0,538.0 718.0,537.0 720.0,536.0 728.0,539.0 736.0,544.0 740.0,554.0 746.0,564.0 752.0,570.0 758.0,573.0 766.0,577.0 772.0,586.0 778.0,598.0 784.0,608.0 790.0,619.0 796.4,630.0" fill="none" stroke="#0c0c8c" stroke-width="1.25" stroke-dasharray="1.4,1.7"/><polyline points="923.2,405.5 929.0,414.9 938.1,438.1 949.7,469.6 963.0,502.7 974.6,529.2 986.2,559.0 993.6,575.3" fill="none" stroke="#15158f" stroke-width="1.3" stroke-dasharray="1.3,2.3"/><path d="M20.5,763.6V765.5M19.0,765.5h1.5M20.5,765.5h1.5M22.5,761.4V763.8M21.0,763.5h1.5M22.5,762.5h1.5M24.5,760.8V763.0M23.0,762.5h1.5M24.5,762.5h1.5M26.5,760.5V762.0M25.0,761.5h1.5M26.5,761.5h1.5M28.5,760.1V761.5M27.0,761.5h1.5M28.5,760.5h1.5M30.5,762.1V763.6M29.0,763.5h1.5M30.5,763.5h1.5M33.5,764.3V766.3M32.0,765.5h1.5M33.5,765.5h1.5M35.5,763.3V764.9M34.0,764.5h1.5M35.5,764.5h1.5M37.5,763.1V765.5M36.0,765.5h1.5M37.5,765.5h1.5M39.5,762.9V765.2M38.0,764.5h1.5M39.5,764.5h1.5M41.5,764.0V767.0M40.0,765.5h1.5M41.5,766.5h1.5M43.5,766.6V769.3M42.0,769.5h1.5M43.5,768.5h1.5M45.5,768.6V770.2M44.0,770.5h1.5M45.5,769.5h1.5M47.5,770.7V772.6M46.0,771.5h1.5M47.5,771.5h1.5M50.5,772.0V773.7M49.0,773.5h1.5M50.5,773.5h1.5M52.5,771.3V773.7M51.0,773.5h1.5M52.5,772.5h1.5M54.5,770.4V772.7M53.0,771.5h1.5M54.5,771.5h1.5M56.5,771.3V772.8M55.0,772.5h1.5M56.5,772.5h1.5M58.5,772.7V775.2M57.0,774.5h1.5M58.5,773.5h1.5M60.5,773.2V775.1M59.0,774.5h1.5M60.5,774.5h1.5M62.5,772.5V774.6M61.0,774.5h1.5M62.5,773.5h1.5M65.5,772.0V774.7M64.0,774.5h1.5M65.5,773.5h1.5M67.5,770.5V772.3M66.0,772.5h1.5M67.5,772.5h1.5M69.5,768.9V771.1M68.0,769.5h1.5M69.5,770.5h1.5M71.5,766.2V768.8M70.0,768.5h1.5M71.5,768.5h1.5M73.5,764.0V767.0M72.0,765.5h1.5M73.5,765.5h1.5M75.5,764.5V766.6M74.0,765.5h1.5M75.5,766.5h1.5M77.5,762.8V764.5M76.0,763.5h1.5M77.5,764.5h1.5M79.5,761.0V762.4M78.0,761.5h1.5M79.5,762.5h1.5M82.5,758.1V760.8M81.0,760.5h1.5M82.5,759.5h1.5M84.5,756.2V759.0M83.0,758.5h1.5M84.5,758.5h1.5M86.5,755.4V758.0M85.0,757.5h1.5M86.5,757.5h1.5M88.5,754.4V756.8M87.0,755.5h1.5M88.5,756.5h1.5M90.5,755.7V758.5M89.0,757.5h1.5M90.5,756.5h1.5M92.5,757.8V760.0M91.0,758.5h1.5M92.5,759.5h1.5M94.5,758.1V759.6M93.0,759.5h1.5M94.5,759.5h1.5M97.5,756.8V759.2M96.0,757.5h1.5M97.5,758.5h1.5M99.5,755.1V757.8M98.0,756.5h1.5M99.5,757.5h1.5M101.5,756.9V758.9M100.0,757.5h1.5M101.5,758.5h1.5M103.5,758.2V759.6M102.0,759.5h1.5M103.5,758.5h1.5M105.5,758.8V760.4M104.0,760.5h1.5M105.5,760.5h1.5M107.5,760.2V761.7M106.0,761.5h1.5M107.5,761.5h1.5M109.5,756.7V758.3M108.0,757.5h1.5M109.5,757.5h1.5M112.5,753.9V756.0M111.0,756.5h1.5M112.5,755.5h1.5M114.5,750.5V752.1M113.0,751.5h1.5M114.5,751.5h1.5M116.5,748.4V750.9M115.0,749.5h1.5M116.5,749.5h1.5M118.5,747.3V750.3M117.0,748.5h1.5M118.5,750.5h1.5M120.5,746.7V748.8M119.0,747.5h1.5M120.5,748.5h1.5M122.5,746.6V748.8M121.0,747.5h1.5M122.5,747.5h1.5M124.5,741.0V744.4M123.0,743.5h1.5M124.5,742.5h1.5M126.5,737.7V739.7M125.0,738.5h1.5M126.5,739.5h1.5M129.5,735.0V737.1M128.0,737.5h1.5M129.5,737.5h1.5M131.5,732.5V735.3M130.0,734.5h1.5M131.5,735.5h1.5M133.5,732.5V734.2M132.0,734.5h1.5M133.5,733.5h1.5M135.5,732.0V734.4M134.0,734.5h1.5M135.5,732.5h1.5M137.5,731.8V735.4M136.0,734.5h1.5M137.5,733.5h1.5M139.5,732.9V735.6M138.0,735.5h1.5M139.5,735.5h1.5M141.5,732.8V735.8M140.0,734.5h1.5M141.5,733.5h1.5M144.5,733.0V736.4M143.0,736.5h1.5M144.5,734.5h1.5M146.5,731.8V735.2M145.0,733.5h1.5M146.5,733.5h1.5M148.5,730.4V732.8M147.0,731.5h1.5M148.5,732.5h1.5M150.5,733.7V735.6M149.0,735.5h1.5M150.5,734.5h1.5M152.5,735.7V737.5M151.0,737.5h1.5M152.5,736.5h1.5M154.5,737.7V739.7M153.0,739.5h1.5M154.5,739.5h1.5M156.5,738.1V740.4M155.0,739.5h1.5M156.5,739.5h1.5M159.5,737.2V738.9M158.0,738.5h1.5M159.5,739.5h1.5M161.5,735.7V737.6M160.0,737.5h1.5M161.5,736.5h1.5M163.5,735.6V737.4M162.0,737.5h1.5M163.5,737.5h1.5M165.5,731.8V734.8M164.0,733.5h1.5M165.5,732.5h1.5M167.5,730.2V732.5M166.0,731.5h1.5M167.5,731.5h1.5M169.5,728.0V730.6M168.0,729.5h1.5M169.5,728.5h1.5M171.5,725.6V729.4M170.0,727.5h1.5M171.5,727.5h1.5M173.5,724.0V727.0M172.0,726.5h1.5M173.5,726.5h1.5M176.5,723.9V726.0M175.0,725.5h1.5M176.5,725.5h1.5M178.5,725.2V727.9M177.0,726.5h1.5M178.5,727.5h1.5M180.5,724.1V727.9M179.0,726.5h1.5M180.5,725.5h1.5M182.5,724.9V726.9M181.0,725.5h1.5M182.5,726.5h1.5M184.5,721.9V725.1M183.0,725.5h1.5M184.5,723.5h1.5M186.5,720.3V723.6M185.0,722.5h1.5M186.5,722.5h1.5M188.5,719.5V722.8M187.0,722.5h1.5M188.5,720.5h1.5M191.5,716.8V721.0M190.0,718.5h1.5M191.5,718.5h1.5M193.5,715.7V718.4M192.0,717.5h1.5M193.5,717.5h1.5M195.5,714.2V716.8M194.0,716.5h1.5M195.5,716.5h1.5M197.5,711.0V714.6M196.0,714.5h1.5M197.5,711.5h1.5M199.5,707.1V710.2M198.0,707.5h1.5M199.5,709.5h1.5M201.5,707.8V712.2M200.0,711.5h1.5M201.5,710.5h1.5M203.5,707.6V712.2M202.0,710.5h1.5M203.5,708.5h1.5M205.5,704.7V709.3M204.0,707.5h1.5M205.5,709.5h1.5M208.5,704.3V707.3M207.0,707.5h1.5M208.5,707.5h1.5M210.5,703.2V706.6M209.0,706.5h1.5M210.5,704.5h1.5M212.5,703.5V706.0M211.0,704.5h1.5M212.5,704.5h1.5M214.5,702.3V705.5M213.0,704.5h1.5M214.5,704.5h1.5M216.5,699.2V704.4M215.0,704.5h1.5M216.5,703.5h1.5M218.5,697.2V702.5M217.0,700.5h1.5M218.5,701.5h1.5M220.5,691.2V696.7M219.0,694.5h1.5M220.5,694.5h1.5M223.5,687.8V691.2M222.0,688.5h1.5M223.5,690.5h1.5M225.5,691.3V694.6M224.0,692.5h1.5M225.5,694.5h1.5M227.5,695.0V699.5M226.0,698.5h1.5M227.5,697.5h1.5M229.5,694.4V699.6M228.0,695.5h1.5M229.5,696.5h1.5M231.5,694.3V699.0M230.0,697.5h1.5M231.5,697.5h1.5M233.5,693.7V696.7M232.0,694.5h1.5M233.5,694.5h1.5M235.5,692.6V698.1M234.0,695.5h1.5M235.5,696.5h1.5M238.5,690.9V696.0M237.0,693.5h1.5M238.5,692.5h1.5M240.5,690.2V693.6M239.0,692.5h1.5M240.5,691.5h1.5M242.5,688.5V692.5M241.0,690.5h1.5M242.5,690.5h1.5M244.5,688.8V694.8M243.0,694.5h1.5M244.5,692.5h1.5M246.5,691.6V695.7M245.0,695.5h1.5M246.5,694.5h1.5M248.5,688.7V694.0M247.0,690.5h1.5M248.5,690.5h1.5M250.5,686.6V689.9M249.0,689.5h1.5M250.5,689.5h1.5M252.5,683.9V689.9M251.0,686.5h1.5M252.5,685.5h1.5M255.5,686.3V689.7M254.0,688.5h1.5M255.5,688.5h1.5M257.5,687.7V693.9M256.0,690.5h1.5M257.5,690.5h1.5M259.5,696.6V700.6M258.0,699.5h1.5M259.5,700.5h1.5M261.5,695.8V699.1M260.0,697.5h1.5M261.5,696.5h1.5M263.5,699.7V705.6M262.0,702.5h1.5M263.5,702.5h1.5M265.5,706.9V711.3M264.0,710.5h1.5M265.5,708.5h1.5M267.5,711.1V715.1M266.0,714.5h1.5M267.5,714.5h1.5M270.5,708.4V713.7M269.0,711.5h1.5M270.5,710.5h1.5M272.5,711.1V714.6M271.0,714.5h1.5M272.5,712.5h1.5M274.5,709.1V712.6M273.0,712.5h1.5M274.5,710.5h1.5M276.5,707.0V710.7M275.0,708.5h1.5M276.5,710.5h1.5M278.5,710.0V713.2M277.0,711.5h1.5M278.5,713.5h1.5M280.5,710.5V714.4M279.0,712.5h1.5M280.5,711.5h1.5M282.5,709.3V714.0M281.0,711.5h1.5M282.5,711.5h1.5M285.5,706.7V711.0M284.0,709.5h1.5M285.5,710.5h1.5M287.5,703.2V707.8M286.0,704.5h1.5M287.5,705.5h1.5M289.5,697.3V702.1M288.0,699.5h1.5M289.5,702.5h1.5M291.5,694.3V698.9M290.0,695.5h1.5M291.5,695.5h1.5M293.5,695.8V698.9M292.0,696.5h1.5M293.5,697.5h1.5M295.5,693.6V697.4M294.0,697.5h1.5M295.5,697.5h1.5M297.5,690.4V696.2M296.0,694.5h1.5M297.5,696.5h1.5M299.5,688.6V693.1M298.0,692.5h1.5M299.5,690.5h1.5M302.5,687.8V693.2M301.0,689.5h1.5M302.5,692.5h1.5M304.5,684.2V687.9M303.0,687.5h1.5M304.5,685.5h1.5M306.5,679.9V684.4M305.0,683.5h1.5M306.5,682.5h1.5M308.5,677.7V684.3M307.0,680.5h1.5M308.5,680.5h1.5M310.5,680.6V686.3M309.0,682.5h1.5M310.5,681.5h1.5M312.5,680.4V687.5M311.0,683.5h1.5M312.5,683.5h1.5M314.5,680.6V686.6M313.0,686.5h1.5M314.5,682.5h1.5M317.5,680.7V686.3M316.0,686.5h1.5M317.5,682.5h1.5M319.5,685.7V690.9M318.0,688.5h1.5M319.5,690.5h1.5M321.5,686.9V692.2M320.0,691.5h1.5M321.5,689.5h1.5M323.5,687.9V694.1M322.0,689.5h1.5M323.5,691.5h1.5M325.5,690.3V697.4M324.0,693.5h1.5M325.5,696.5h1.5M327.5,696.2V701.7M326.0,698.5h1.5M327.5,698.5h1.5M329.5,696.8V703.3M328.0,702.5h1.5M329.5,698.5h1.5M331.5,698.2V702.0M330.0,700.5h1.5M331.5,701.5h1.5M334.5,694.5V698.2M333.0,697.5h1.5M334.5,695.5h1.5M336.5,693.8V697.5M335.0,694.5h1.5M336.5,694.5h1.5M338.5,691.3V697.9M337.0,697.5h1.5M338.5,693.5h1.5M340.5,690.2V694.3M339.0,693.5h1.5M340.5,694.5h1.5M342.5,687.0V693.3M341.0,689.5h1.5M342.5,689.5h1.5M344.5,686.1V693.3M343.0,692.5h1.5M344.5,690.5h1.5M346.5,686.1V690.7M345.0,688.5h1.5M346.5,689.5h1.5M349.5,684.4V689.8M348.0,686.5h1.5M349.5,686.5h1.5M351.5,686.1V693.8M350.0,687.5h1.5M351.5,692.5h1.5M353.5,689.0V693.3M352.0,693.5h1.5M353.5,692.5h1.5M355.5,689.2V695.0M354.0,694.5h1.5M355.5,690.5h1.5M357.5,690.6V695.1M356.0,692.5h1.5M357.5,693.5h1.5M359.5,690.2V696.8M358.0,696.5h1.5M359.5,696.5h1.5M361.5,690.7V696.7M360.0,693.5h1.5M361.5,692.5h1.5M364.5,690.2V694.0M363.0,692.5h1.5M364.5,692.5h1.5M366.5,686.3V692.7M365.0,692.5h1.5M366.5,688.5h1.5M368.5,686.1V690.2M367.0,689.5h1.5M368.5,689.5h1.5M370.5,683.5V690.8M369.0,689.5h1.5M370.5,689.5h1.5M372.5,684.1V688.5M371.0,687.5h1.5M372.5,686.5h1.5M374.5,684.5V688.5M373.0,686.5h1.5M374.5,686.5h1.5M376.5,683.4V688.6M375.0,687.5h1.5M376.5,684.5h1.5M378.5,684.3V690.1M377.0,686.5h1.5M378.5,688.5h1.5M381.5,681.1V688.8M380.0,683.5h1.5M381.5,682.5h1.5M383.5,680.2V685.0M382.0,681.5h1.5M383.5,683.5h1.5M385.5,677.1V683.9M384.0,680.5h1.5M385.5,683.5h1.5M387.5,678.2V682.7M386.0,682.5h1.5M387.5,682.5h1.5M389.5,675.8V683.2M388.0,678.5h1.5M389.5,677.5h1.5M391.5,676.0V680.5M390.0,677.5h1.5M391.5,678.5h1.5M393.5,672.1V679.4M392.0,677.5h1.5M393.5,675.5h1.5M396.5,671.2V675.9M395.0,673.5h1.5M396.5,673.5h1.5M398.5,671.6V676.3M397.0,674.5h1.5M398.5,675.5h1.5M400.5,671.4V678.0M399.0,676.5h1.5M400.5,677.5h1.5M402.5,672.6V679.7M401.0,677.5h1.5M402.5,674.5h1.5M404.5,673.5V679.1M403.0,678.5h1.5M404.5,675.5h1.5M406.5,673.8V680.7M405.0,678.5h1.5M406.5,677.5h1.5M408.5,670.4V675.4M407.0,674.5h1.5M408.5,672.5h1.5M410.5,666.3V671.0M409.0,668.5h1.5M410.5,668.5h1.5M413.5,661.8V668.1M412.0,663.5h1.5M413.5,667.5h1.5M415.5,657.7V666.5M414.0,663.5h1.5M415.5,661.5h1.5M417.5,654.0V661.6M416.0,657.5h1.5M417.5,661.5h1.5M419.5,658.0V664.7M418.0,661.5h1.5M419.5,660.5h1.5M421.5,653.9V660.2M420.0,659.5h1.5M421.5,658.5h1.5M423.5,648.9V658.0M422.0,657.5h1.5M423.5,651.5h1.5M425.5,645.3V651.5M424.0,648.5h1.5M425.5,650.5h1.5M428.5,636.4V647.2M427.0,645.5h1.5M428.5,645.5h1.5M430.5,636.7V646.9M429.0,638.5h1.5M430.5,640.5h1.5M432.5,637.6V645.9M431.0,639.5h1.5M432.5,640.5h1.5M434.5,636.8V644.6M433.0,644.5h1.5M434.5,641.5h1.5M436.5,636.4V646.0M435.0,644.5h1.5M436.5,640.5h1.5M438.5,647.5V654.7M437.0,653.5h1.5M438.5,651.5h1.5M440.5,652.0V661.1M439.0,655.5h1.5M440.5,659.5h1.5M443.5,653.1V660.5M442.0,659.5h1.5M443.5,654.5h1.5M445.5,650.8V656.3M444.0,654.5h1.5M445.5,654.5h1.5M447.5,645.0V650.8M446.0,647.5h1.5M447.5,647.5h1.5M449.5,638.2V645.3M448.0,640.5h1.5M449.5,640.5h1.5M451.5,639.4V645.4M450.0,641.5h1.5M451.5,643.5h1.5M453.5,637.1V648.1M452.0,644.5h1.5M453.5,640.5h1.5M455.5,638.7V646.0M454.0,640.5h1.5M455.5,641.5h1.5M457.5,636.8V644.2M456.0,642.5h1.5M457.5,639.5h1.5M460.5,635.0V641.6M459.0,637.5h1.5M460.5,637.5h1.5M462.5,633.6V641.0M461.0,639.5h1.5M462.5,638.5h1.5M464.5,630.1V642.1M463.0,632.5h1.5M464.5,632.5h1.5M466.5,634.9V642.2M465.0,638.5h1.5M466.5,639.5h1.5M468.5,635.4V643.1M467.0,640.5h1.5M468.5,637.5h1.5M470.5,637.0V642.7M469.0,638.5h1.5M470.5,641.5h1.5M472.5,635.6V644.4M471.0,639.5h1.5M472.5,638.5h1.5M475.5,638.3V645.3M474.0,641.5h1.5M475.5,644.5h1.5M477.5,641.2V646.9M476.0,643.5h1.5M477.5,644.5h1.5M479.5,642.8V649.0M478.0,645.5h1.5M479.5,645.5h1.5M481.5,640.5V646.5M480.0,645.5h1.5M481.5,646.5h1.5M483.5,632.6V640.5M482.0,636.5h1.5M483.5,635.5h1.5M485.5,629.1V639.0M484.0,636.5h1.5M485.5,632.5h1.5M487.5,623.4V634.8M486.0,625.5h1.5M487.5,633.5h1.5M490.5,618.0V629.4M489.0,623.5h1.5M490.5,627.5h1.5M492.5,618.6V627.7M491.0,622.5h1.5M492.5,626.5h1.5M494.5,614.7V628.2M493.0,621.5h1.5M494.5,618.5h1.5M496.5,615.7V627.4M495.0,617.5h1.5M496.5,622.5h1.5M498.5,619.9V626.6M497.0,624.5h1.5M498.5,625.5h1.5M500.5,611.3V624.4M499.0,614.5h1.5M500.5,619.5h1.5M502.5,608.4V620.6M501.0,613.5h1.5M502.5,615.5h1.5M504.5,612.0V619.7M503.0,614.5h1.5M504.5,615.5h1.5M507.5,612.1V622.5M506.0,618.5h1.5M507.5,621.5h1.5M509.5,610.2V622.9M508.0,613.5h1.5M509.5,616.5h1.5M511.5,618.5V629.3M510.0,627.5h1.5M511.5,628.5h1.5M513.5,624.6V635.9M512.0,627.5h1.5M513.5,627.5h1.5M515.5,628.1V636.1M514.0,635.5h1.5M515.5,635.5h1.5M517.5,624.1V631.5M516.0,628.5h1.5M517.5,625.5h1.5M519.5,620.4V627.7M518.0,627.5h1.5M519.5,623.5h1.5M522.5,616.7V627.6M521.0,626.5h1.5M522.5,623.5h1.5M522.5,621.0V630.0M521.0,628.5h1.5M522.5,623.5h1.5M524.5,619.0V628.0M523.0,626.5h1.5M524.5,621.5h1.5M527.5,617.0V620.0M526.0,618.5h1.5M527.5,619.5h1.5M530.5,615.0V619.0M529.0,618.5h1.5M530.5,616.5h1.5M533.5,609.0V620.0M532.0,612.5h1.5M533.5,614.5h1.5M534.5,595.0V606.0M533.0,601.5h1.5M534.5,599.5h1.5M537.5,587.0V595.0M536.0,589.5h1.5M537.5,589.5h1.5M539.5,586.0V589.0M538.0,588.5h1.5M539.5,588.5h1.5M542.5,587.0V589.0M541.0,587.5h1.5M542.5,588.5h1.5M544.5,587.0V591.0M543.0,590.5h1.5M544.5,588.5h1.5M547.5,587.0V590.0M546.0,589.5h1.5M547.5,588.5h1.5M550.5,578.0V588.0M549.0,584.5h1.5M550.5,583.5h1.5M552.5,567.0V576.0M551.0,572.5h1.5M552.5,570.5h1.5M554.5,566.0V573.0M553.0,569.5h1.5M554.5,570.5h1.5M557.5,559.0V568.0M556.0,563.5h1.5M557.5,565.5h1.5M559.5,542.0V553.0M558.0,547.5h1.5M559.5,547.5h1.5M562.5,525.0V540.0M561.0,527.5h1.5M562.5,534.5h1.5M564.5,519.6V524.0M563.0,522.5h1.5M564.5,521.5h1.5M566.5,524.0V549.0M565.0,542.5h1.5M566.5,542.5h1.5M569.5,538.0V559.0M568.0,548.5h1.5M569.5,543.5h1.5M570.5,530.0V550.0M569.0,540.5h1.5M570.5,534.5h1.5M572.5,517.0V530.0M571.0,520.5h1.5M572.5,523.5h1.5M574.5,504.0V514.0M573.0,506.5h1.5M574.5,509.5h1.5M577.5,509.0V516.0M576.0,513.5h1.5M577.5,510.5h1.5M579.5,508.0V517.0M578.0,513.5h1.5M579.5,509.5h1.5M581.5,494.0V509.0M580.0,504.5h1.5M581.5,505.5h1.5M584.5,489.0V512.0M583.0,501.5h1.5M584.5,492.5h1.5M586.5,489.0V512.0M585.0,501.5h1.5M586.5,498.5h1.5M588.5,501.0V514.0M587.0,512.5h1.5M588.5,504.5h1.5M590.5,501.0V512.0M589.0,510.5h1.5M590.5,511.5h1.5M592.5,487.0V502.0M591.0,497.5h1.5M592.5,498.5h1.5M594.5,497.0V507.0M593.0,500.5h1.5M594.5,506.5h1.5M596.5,489.0V504.0M595.0,496.5h1.5M596.5,502.5h1.5M598.5,491.0V500.0M597.0,498.5h1.5M598.5,493.5h1.5M600.5,502.0V516.0M599.0,512.5h1.5M600.5,514.5h1.5M602.5,506.0V514.0M601.0,507.5h1.5M602.5,509.5h1.5M604.5,507.0V514.0M603.0,512.5h1.5M604.5,509.5h1.5M606.5,498.0V508.0M605.0,506.5h1.5M606.5,501.5h1.5M609.5,493.0V497.0M608.0,496.5h1.5M609.5,494.5h1.5M612.5,482.0V496.0M611.0,489.5h1.5M612.5,494.5h1.5M614.5,481.0V488.0M613.0,483.5h1.5M614.5,483.5h1.5M616.5,487.0V494.0M615.0,491.5h1.5M616.5,489.5h1.5M618.5,496.0V512.0M617.0,498.5h1.5M618.5,500.5h1.5M620.5,515.0V522.0M619.0,517.5h1.5M620.5,521.5h1.5M622.5,502.0V509.0M621.0,507.5h1.5M622.5,508.5h1.5M624.5,496.0V509.0M623.0,499.5h1.5M624.5,505.5h1.5M627.5,487.0V494.0M626.0,488.5h1.5M627.5,491.5h1.5M629.5,474.0V488.0M628.0,483.5h1.5M629.5,479.5h1.5M631.5,459.0V470.0M630.0,468.5h1.5M631.5,465.5h1.5M633.5,456.0V462.0M632.0,459.5h1.5M633.5,461.5h1.5M635.5,457.0V464.0M634.0,458.5h1.5M635.5,463.5h1.5M637.5,458.0V464.0M636.0,462.5h1.5M637.5,460.5h1.5M639.5,447.0V466.0M638.0,461.5h1.5M639.5,453.5h1.5M641.5,448.0V467.0M640.0,465.5h1.5M641.5,459.5h1.5M644.5,437.0V450.0M643.0,442.5h1.5M644.5,446.5h1.5M646.5,421.0V433.0M645.0,426.5h1.5M646.5,424.5h1.5M648.5,413.0V426.0M647.0,422.5h1.5M648.5,415.5h1.5M650.5,413.0V427.0M649.0,424.5h1.5M650.5,417.5h1.5M652.5,419.0V431.0M651.0,426.5h1.5M652.5,430.5h1.5M654.5,423.0V437.0M653.0,431.5h1.5M654.5,432.5h1.5M656.5,440.0V457.0M655.0,446.5h1.5M656.5,442.5h1.5M658.5,458.0V483.0M657.0,461.5h1.5M658.5,463.5h1.5M660.5,448.0V458.0M659.0,454.5h1.5M660.5,452.5h1.5M662.5,449.0V473.0M661.0,461.5h1.5M662.5,469.5h1.5M664.5,480.0V515.0M663.0,487.5h1.5M664.5,490.5h1.5M666.5,546.0V601.0M665.0,580.5h1.5M666.5,552.5h1.5M668.5,566.0V598.0M667.0,569.5h1.5M668.5,578.5h1.5M671.5,601.0V640.0M670.0,608.5h1.5M671.5,616.5h1.5M673.5,578.0V603.0M672.0,585.5h1.5M673.5,592.5h1.5M675.5,583.0V593.0M674.0,589.5h1.5M675.5,586.5h1.5M677.5,563.0V585.0M676.0,576.5h1.5M677.5,574.5h1.5M679.5,561.0V584.0M678.0,566.5h1.5M679.5,581.5h1.5M681.5,578.0V600.0M680.0,584.5h1.5M681.5,583.5h1.5M683.5,586.0V598.0M682.0,588.5h1.5M683.5,593.5h1.5M685.5,577.0V587.0M684.0,585.5h1.5M685.5,584.5h1.5M688.5,576.0V580.0M687.0,578.5h1.5M688.5,577.5h1.5M690.5,574.0V580.0M689.0,575.5h1.5M690.5,578.5h1.5M693.5,567.0V576.0M692.0,572.5h1.5M693.5,570.5h1.5M695.5,555.0V565.0M694.0,561.5h1.5M695.5,560.5h1.5M697.5,548.0V556.0M696.0,555.5h1.5M697.5,553.5h1.5M699.5,547.0V555.0M698.0,549.5h1.5M699.5,554.5h1.5M701.5,549.0V558.0M700.0,550.5h1.5M701.5,554.5h1.5M704.5,549.0V561.0M703.0,554.5h1.5M704.5,552.5h1.5M706.5,543.0V551.0M705.0,544.5h1.5M706.5,549.5h1.5M708.5,539.0V550.0M707.0,540.5h1.5M708.5,545.5h1.5M710.5,537.0V544.0M709.0,543.5h1.5M710.5,538.5h1.5M712.5,533.0V540.0M711.0,535.5h1.5M712.5,537.5h1.5M714.5,526.0V533.0M713.0,530.5h1.5M714.5,530.5h1.5M716.5,520.0V528.0M715.0,526.5h1.5M716.5,522.5h1.5M718.5,518.0V524.0M717.0,520.5h1.5M718.5,520.5h1.5M721.5,529.4V531.6M720.0,530.5h1.5M721.5,531.5h1.5M723.5,539.0V556.0M722.0,551.5h1.5M723.5,550.5h1.5M724.5,554.0V564.0M723.0,555.5h1.5M724.5,562.5h1.5M727.5,547.0V552.0M726.0,550.5h1.5M727.5,549.5h1.5M729.5,544.0V556.0M728.0,552.5h1.5M729.5,550.5h1.5M732.5,545.0V559.0M731.0,549.5h1.5M732.5,548.5h1.5M735.5,566.0V579.6M734.0,570.5h1.5M735.5,568.5h1.5M738.5,600.0V614.0M737.0,605.5h1.5M738.5,610.5h1.5M740.5,611.0V623.0M739.0,619.5h1.5M740.5,620.5h1.5M742.5,605.0V610.0M741.0,608.5h1.5M742.5,607.5h1.5M744.5,604.0V614.0M743.0,609.5h1.5M744.5,608.5h1.5M746.5,587.0V596.0M745.0,594.5h1.5M746.5,592.5h1.5M748.5,588.0V602.0M747.0,592.5h1.5M748.5,597.5h1.5M750.5,588.0V600.0M749.0,598.5h1.5M750.5,591.5h1.5M753.5,590.0V609.0M752.0,605.5h1.5M753.5,592.5h1.5M754.5,601.0V615.0M753.0,605.5h1.5M754.5,605.5h1.5M757.5,596.0V604.0M756.0,602.5h1.5M757.5,603.5h1.5M759.5,587.0V598.0M758.0,595.5h1.5M759.5,591.5h1.5M761.5,587.0V593.0M760.0,592.5h1.5M761.5,589.5h1.5M763.5,583.0V587.0M762.0,584.5h1.5M763.5,586.5h1.5M764.5,590.0V602.0M763.0,597.5h1.5M764.5,598.5h1.5M768.5,604.0V622.0M767.0,615.5h1.5M768.5,620.5h1.5M770.5,619.0V632.0M769.0,625.5h1.5M770.5,629.5h1.5M772.5,633.0V647.0M771.0,642.5h1.5M772.5,644.5h1.5M773.5,637.0V653.0M772.0,644.5h1.5M773.5,648.5h1.5M774.5,643.0V654.0M773.0,649.5h1.5M774.5,647.5h1.5M776.5,643.0V658.0M775.0,647.5h1.5M776.5,652.5h1.5M779.5,655.0V670.0M778.0,657.5h1.5M779.5,667.5h1.5M782.5,657.0V673.0M781.0,660.5h1.5M782.5,659.5h1.5M784.5,649.0V662.0M783.0,651.5h1.5M784.5,660.5h1.5M786.5,652.0V662.0M785.0,656.5h1.5M786.5,654.5h1.5M788.5,652.0V662.0M787.0,653.5h1.5M788.5,653.5h1.5M791.5,666.0V677.0M790.0,673.5h1.5M791.5,673.5h1.5M793.5,676.0V691.0M792.0,686.5h1.5M793.5,686.5h1.5M794.5,680.0V687.0M793.0,681.5h1.5M794.5,684.5h1.5M796.5,681.0V687.0M795.0,683.5h1.5M796.5,686.5h1.5" stroke="#000" stroke-width="1" fill="none" shape-rendering="crispEdges"/><path d="M908.5,432.3V450.5M906.0,432.5h5M913.5,411.9V429.5M911.0,429.5h5M918.5,443.1V479.5M916.0,479.5h5M923.5,489.1V544.5M921.0,543.5h5M928.5,541.3V579.4M926.0,541.5h5M933.5,583.8V633.5M931.0,606.5h5M938.5,598.1V652.4M936.0,651.5h5M943.5,620.3V662.7M941.0,620.5h5M948.5,619.6V668.3M946.0,667.5h5M953.5,660.0V706.4M951.0,705.5h5M958.5,666.0V717.3M956.0,666.5h5M963.5,640.1V680.9M961.0,640.5h5M968.5,647.8V679.2M966.0,678.5h5M973.5,654.0V678.2M971.0,677.5h5M978.5,697.1V728.9M976.0,728.5h5M983.5,727.9V775.3M981.0,728.5h5M988.5,744.5V760.0M986.0,759.5h5M993.5,746.1V765.3M991.0,746.5h5" stroke="#000" stroke-width="1" fill="none" shape-rendering="crispEdges"/><line x1="210" y1="686.4" x2="455" y2="664" stroke="#0000ff" stroke-width="2.6" stroke-linecap="round"/><line x1="214" y1="732.4" x2="448" y2="677.6" stroke="#0000ff" stroke-width="2.6" stroke-linecap="round"/><line x1="423.6" y1="639.4" x2="555" y2="590.4" stroke="#0000ff" stroke-width="2.6" stroke-linecap="round"/><line x1="428" y1="666" x2="557.4" y2="622.6" stroke="#0000ff" stroke-width="2.6" stroke-linecap="round"/><line x1="535" y1="498.6" x2="636" y2="475.6" stroke="#0000ff" stroke-width="2.6" stroke-linecap="round"/><line x1="535" y1="498.6" x2="630" y2="525.4" stroke="#0000ff" stroke-width="2.6" stroke-linecap="round"/><line x1="667" y1="571.6" x2="735" y2="501.6" stroke="#0000ff" stroke-width="2.6" stroke-linecap="round"/><line x1="668.6" y1="630.6" x2="735" y2="501.6" stroke="#0000ff" stroke-width="2.6" stroke-linecap="round"/><line x1="730.4" y1="591" x2="779.4" y2="575.6" stroke="#0000ff" stroke-width="2.6" stroke-linecap="round"/><line x1="735.6" y1="622" x2="784.4" y2="607.4" stroke="#0000ff" stroke-width="2.6" stroke-linecap="round"/><line x1="617.4" y1="450.6" x2="689" y2="501.4" stroke="#111" stroke-width="2.4" stroke-dasharray="5,3"/><polygon points="596,533 603.8,541 600.4,541 600.4,549 591.6,549 591.6,541 588.2,541" fill="#ff0000"/><polygon points="649,547.8 656.8,539.6 653.4,539.6 653.4,532 644.6,532 644.6,539.6 641.2,539.6" fill="#ff0000"/><text x="614.6" y="544.2" font-size="12" font-weight="bold" fill="#000" text-anchor="start" textLength="15.6" lengthAdjust="spacingAndGlyphs" >RS</text><text x="632" y="442" font-size="10.5" font-weight="bold" fill="#000" text-anchor="start" textLength="6" lengthAdjust="spacingAndGlyphs" >S</text><text x="658" y="445" font-size="10.5" font-weight="bold" fill="#000" text-anchor="start" textLength="6" lengthAdjust="spacingAndGlyphs" >S</text><text x="643" y="464" font-size="10.5" font-weight="bold" fill="#000" text-anchor="start" textLength="11.6" lengthAdjust="spacingAndGlyphs" >NL</text><polygon points="138.7,644.7 282.7,644.7 282.7,663.7 289.2,682.2 276.2,663.7 138.7,663.7" fill="#b8b8b8" stroke="#b8b8b8" stroke-width="1.2"/><polygon points="136.5,642.5 280.5,642.5 280.5,661.5 287.0,680.0 274.0,661.5 136.5,661.5" fill="#fff" stroke="#8a8a8a" stroke-width="1.1"/><text x="138.6" y="655" font-size="10.5" font-weight="bold" fill="#0000ff" text-anchor="start" textLength="122.8" lengthAdjust="spacingAndGlyphs" >BULLISH RISING WEDGE</text><polygon points="245.7,579.7 456.7,579.7 456.7,598.7 479.8,618.2 450.2,598.7 245.7,598.7" fill="#b8b8b8" stroke="#b8b8b8" stroke-width="1.2"/><polygon points="243.5,577.5 454.5,577.5 454.5,596.5 477.6,616.0 448.0,596.5 243.5,596.5" fill="#fff" stroke="#8a8a8a" stroke-width="1.1"/><text x="245.6" y="590" font-size="10.5" font-weight="bold" fill="#0000ff" text-anchor="start" textLength="185.8" lengthAdjust="spacingAndGlyphs" >BULLISH EXPANDING RISING WEDGE</text><polygon points="398.7,458.7 564.7,458.7 564.7,477.7 573.8,489.2 558.2,477.7 398.7,477.7" fill="#b8b8b8" stroke="#b8b8b8" stroke-width="1.2"/><polygon points="396.5,456.5 562.5,456.5 562.5,475.5 571.6,487.0 556.0,475.5 396.5,475.5" fill="#fff" stroke="#8a8a8a" stroke-width="1.1"/><text x="398.6" y="469" font-size="10.5" font-weight="bold" fill="#0000ff" text-anchor="start" textLength="141.4" lengthAdjust="spacingAndGlyphs" >6 PT EXPANDING TRIANGLE</text><polygon points="368.7,637.7 396.7,637.7 396.7,653.7 411.2,667.2 389.2,653.7 368.7,653.7" fill="#b8b8b8" stroke="#b8b8b8" stroke-width="1.2"/><polygon points="366.5,635.5 394.5,635.5 394.5,651.5 409.0,665.0 387.0,651.5 366.5,651.5" fill="#fff" stroke="#8a8a8a" stroke-width="1.1"/><text x="370" y="646" font-size="9.5" font-weight="normal" fill="#0000ff" text-anchor="start" textLength="12.4" lengthAdjust="spacing" >B0</text><polygon points="499.7,573.7 526.7,573.7 526.7,589.7 534.6,598.8 520.2,589.7 499.7,589.7" fill="#b8b8b8" stroke="#b8b8b8" stroke-width="1.2"/><polygon points="497.5,571.5 524.5,571.5 524.5,587.5 532.4,596.6 518.0,587.5 497.5,587.5" fill="#fff" stroke="#8a8a8a" stroke-width="1.1"/><text x="501" y="581.8" font-size="9.5" font-weight="normal" fill="#0000ff" text-anchor="start" textLength="12.4" lengthAdjust="spacing" >B0</text><polygon points="459.7,674.7 484.7,674.7 484.7,690.7 459.7,690.7 459.7,680.2 447.2,668.8" fill="#b8b8b8" stroke="#b8b8b8" stroke-width="1.2"/><polygon points="457.5,672.5 482.5,672.5 482.5,688.5 457.5,688.5 457.5,678.0 445.0,666.6" fill="#fff" stroke="#8a8a8a" stroke-width="1.1"/><text x="460" y="683" font-size="9.5" font-weight="normal" fill="#0000ff" text-anchor="start" textLength="11.5" lengthAdjust="spacing" >BT</text><polygon points="561.7,604.7 587.7,604.7 587.7,620.7 561.7,620.7 561.7,610.2 550.2,597.2" fill="#b8b8b8" stroke="#b8b8b8" stroke-width="1.2"/><polygon points="559.5,602.5 585.5,602.5 585.5,618.5 559.5,618.5 559.5,608.0 548.0,595.0" fill="#fff" stroke="#8a8a8a" stroke-width="1.1"/><text x="562.5" y="613" font-size="9.5" font-weight="normal" fill="#0000ff" text-anchor="start" textLength="11.5" lengthAdjust="spacing" >BT</text><polygon points="576.7,444.7 611.7,444.7 611.7,462.7 631.2,475.8 601.2,462.7 576.7,462.7" fill="#b8b8b8" stroke="#b8b8b8" stroke-width="1.2"/><polygon points="574.5,442.5 609.5,442.5 609.5,460.5 629.0,473.6 599.0,460.5 574.5,460.5" fill="#fff" stroke="#8a8a8a" stroke-width="1.1"/><text x="577.4" y="454" font-size="9.5" font-weight="normal" fill="#0000ff" text-anchor="start" textLength="22" lengthAdjust="spacing" >BOG</text><polygon points="684.7,455.7 717.7,455.7 717.7,471.7 694.2,471.7 672.6,476.6 684.7,465.2" fill="#b8b8b8" stroke="#b8b8b8" stroke-width="1.2"/><polygon points="682.5,453.5 715.5,453.5 715.5,469.5 692.0,469.5 670.4,474.4 682.5,463.0" fill="#fff" stroke="#8a8a8a" stroke-width="1.1"/><text x="685.6" y="464" font-size="9.5" font-weight="normal" fill="#0000ff" text-anchor="start" textLength="20" lengthAdjust="spacing" >B0G</text><polygon points="689.7,595.7 704.2,595.7 720.2,548.2 711.2,595.7 725.7,595.7 725.7,613.7 689.7,613.7" fill="#b8b8b8" stroke="#b8b8b8" stroke-width="1.2"/><polygon points="687.5,593.5 702.0,593.5 718.0,546.0 709.0,593.5 723.5,593.5 723.5,611.5 687.5,611.5" fill="#fff" stroke="#8a8a8a" stroke-width="1.1"/><text x="690.4" y="605" font-size="9.5" font-weight="normal" fill="#0000ff" text-anchor="start" textLength="22" lengthAdjust="spacing" >BOG</text><polygon points="719.7,477.7 856.7,477.7 856.7,495.7 726.2,495.7 717.8,516.6 719.7,495.7 719.7,495.7" fill="#b8b8b8" stroke="#b8b8b8" stroke-width="1.2"/><polygon points="717.5,475.5 854.5,475.5 854.5,493.5 724.0,493.5 715.6,514.4 717.5,493.5 717.5,493.5" fill="#fff" stroke="#8a8a8a" stroke-width="1.1"/><text x="720.6" y="487" font-size="9.5" font-weight="normal" fill="#0000ff" text-anchor="start" textLength="122.8" lengthAdjust="spacing" >BEARISH RISING WEDGE</text><polygon points="770.7,545.7 846.7,545.7 846.7,563.7 777.2,563.7 771.2,580.2 770.7,563.7 770.7,563.7" fill="#b8b8b8" stroke="#b8b8b8" stroke-width="1.2"/><polygon points="768.5,543.5 844.5,543.5 844.5,561.5 775.0,561.5 769.0,578.0 768.5,561.5 768.5,561.5" fill="#fff" stroke="#8a8a8a" stroke-width="1.1"/><text x="771.4" y="555.2" font-size="9.5" font-weight="normal" fill="#0000ff" text-anchor="start" textLength="57" lengthAdjust="spacing" >BEAR FLAG</text><polygon points="731.7,638.7 753.2,638.7 764.2,622.2 759.7,638.7 759.7,638.7 759.7,657.7 731.7,657.7" fill="#b8b8b8" stroke="#b8b8b8" stroke-width="1.2"/><polygon points="729.5,636.5 751.0,636.5 762.0,620.0 757.5,636.5 757.5,636.5 757.5,655.5 729.5,655.5" fill="#fff" stroke="#8a8a8a" stroke-width="1.1"/><text x="731.6" y="648.8" font-size="10.5" font-weight="bold" fill="#0000ff" text-anchor="start" textLength="14.4" lengthAdjust="spacingAndGlyphs" >BO</text><path d="M20.5,416v-7M18.5,411.5l2,-2.5l2,2.5M25.5,409v7M23.5,413.5l2,2.5l2,-2.5" stroke="#000" stroke-width="1.1" fill="none"/><text x="31.6" y="415.6" font-size="10" font-weight="normal" fill="#000" text-anchor="start" textLength="176" lengthAdjust="spacingAndGlyphs" >$INDU (Weekly) 164.58 (2 Jan)</text><line x1="19" y1="423.5" x2="28" y2="423.5" stroke="#00008b" stroke-width="1.4" stroke-dasharray="1.5,1.5"/><text x="29.4" y="427" font-size="9.5" font-weight="normal" fill="#000099" text-anchor="start" textLength="69.6" lengthAdjust="spacingAndGlyphs" >EMA(30) 205.77</text><text x="18.9" y="792.8" font-size="10.5" font-weight="bold" fill="#000" text-anchor="middle" >24</text><text x="47.3" y="792.8" font-size="10" font-weight="normal" fill="#000" text-anchor="middle" >Apr</text><text x="75.1" y="792.8" font-size="10" font-weight="normal" fill="#000" text-anchor="middle" >Jul</text><text x="103.0" y="792.8" font-size="10" font-weight="normal" fill="#000" text-anchor="middle" >Oct</text><text x="130.3" y="792.8" font-size="10.5" font-weight="bold" fill="#000" text-anchor="middle" >25</text><text x="158.7" y="792.8" font-size="10" font-weight="normal" fill="#000" text-anchor="middle" >Apr</text><text x="186.5" y="792.8" font-size="10" font-weight="normal" fill="#000" text-anchor="middle" >Jul</text><text x="214.4" y="792.8" font-size="10" font-weight="normal" fill="#000" text-anchor="middle" >Oct</text><text x="241.8" y="792.8" font-size="10.5" font-weight="bold" fill="#000" text-anchor="middle" >26</text><text x="270.1" y="792.8" font-size="10" font-weight="normal" fill="#000" text-anchor="middle" >Apr</text><text x="298.0" y="792.8" font-size="10" font-weight="normal" fill="#000" text-anchor="middle" >Jul</text><text x="325.8" y="792.8" font-size="10" font-weight="normal" fill="#000" text-anchor="middle" >Oct</text><text x="353.2" y="792.8" font-size="10.5" font-weight="bold" fill="#000" text-anchor="middle" >27</text><text x="381.5" y="792.8" font-size="10" font-weight="normal" fill="#000" text-anchor="middle" >Apr</text><text x="409.4" y="792.8" font-size="10" font-weight="normal" fill="#000" text-anchor="middle" >Jul</text><text x="437.3" y="792.8" font-size="10" font-weight="normal" fill="#000" text-anchor="middle" >Oct</text><text x="464.6" y="792.8" font-size="10.5" font-weight="bold" fill="#000" text-anchor="middle" >28</text><text x="493.0" y="792.8" font-size="10" font-weight="normal" fill="#000" text-anchor="middle" >Apr</text><text x="520.8" y="792.8" font-size="10" font-weight="normal" fill="#000" text-anchor="middle" >Jul</text><text x="548.7" y="792.8" font-size="10" font-weight="normal" fill="#000" text-anchor="middle" >Oct</text><text x="576.1" y="792.8" font-size="10.5" font-weight="bold" fill="#000" text-anchor="middle" >29</text><text x="604.4" y="792.8" font-size="10" font-weight="normal" fill="#000" text-anchor="middle" >Apr</text><text x="632.3" y="792.8" font-size="10" font-weight="normal" fill="#000" text-anchor="middle" >Jul</text><text x="660.1" y="792.8" font-size="10" font-weight="normal" fill="#000" text-anchor="middle" >Oct</text><text x="687.5" y="792.8" font-size="10.5" font-weight="bold" fill="#000" text-anchor="middle" >30</text><text x="715.8" y="792.8" font-size="10" font-weight="normal" fill="#000" text-anchor="middle" >Apr</text><text x="743.7" y="792.8" font-size="10" font-weight="normal" fill="#000" text-anchor="middle" >Jul</text><text x="771.6" y="792.8" font-size="10" font-weight="normal" fill="#000" text-anchor="middle" >Oct</text><text x="798.9" y="792.8" font-size="10.5" font-weight="bold" fill="#000" text-anchor="middle" >31</text><text x="827.3" y="792.8" font-size="10" font-weight="normal" fill="#000" text-anchor="middle" >Apr</text><text x="18.9" y="1201.5" font-size="10.5" font-weight="bold" fill="#000" text-anchor="middle" >24</text><text x="47.3" y="1201.5" font-size="10" font-weight="normal" fill="#000" text-anchor="middle" >Apr</text><text x="75.1" y="1201.5" font-size="10" font-weight="normal" fill="#000" text-anchor="middle" >Jul</text><text x="103.0" y="1201.5" font-size="10" font-weight="normal" fill="#000" text-anchor="middle" >Oct</text><text x="130.3" y="1201.5" font-size="10.5" font-weight="bold" fill="#000" text-anchor="middle" >25</text><text x="158.7" y="1201.5" font-size="10" font-weight="normal" fill="#000" text-anchor="middle" >Apr</text><text x="186.5" y="1201.5" font-size="10" font-weight="normal" fill="#000" text-anchor="middle" >Jul</text><text x="214.4" y="1201.5" font-size="10" font-weight="normal" fill="#000" text-anchor="middle" >Oct</text><text x="241.8" y="1201.5" font-size="10.5" font-weight="bold" fill="#000" text-anchor="middle" >26</text><text x="270.1" y="1201.5" font-size="10" font-weight="normal" fill="#000" text-anchor="middle" >Apr</text><text x="298.0" y="1201.5" font-size="10" font-weight="normal" fill="#000" text-anchor="middle" >Jul</text><text x="325.8" y="1201.5" font-size="10" font-weight="normal" fill="#000" text-anchor="middle" >Oct</text><text x="353.2" y="1201.5" font-size="10.5" font-weight="bold" fill="#000" text-anchor="middle" >27</text><text x="381.5" y="1201.5" font-size="10" font-weight="normal" fill="#000" text-anchor="middle" >Apr</text><text x="409.4" y="1201.5" font-size="10" font-weight="normal" fill="#000" text-anchor="middle" >Jul</text><text x="437.3" y="1201.5" font-size="10" font-weight="normal" fill="#000" text-anchor="middle" >Oct</text><text x="464.6" y="1201.5" font-size="10.5" font-weight="bold" fill="#000" text-anchor="middle" >28</text><text x="493.0" y="1201.5" font-size="10" font-weight="normal" fill="#000" text-anchor="middle" >Apr</text><text x="520.8" y="1201.5" font-size="10" font-weight="normal" fill="#000" text-anchor="middle" >Jul</text><text x="548.7" y="1201.5" font-size="10" font-weight="normal" fill="#000" text-anchor="middle" >Oct</text><text x="576.1" y="1201.5" font-size="10.5" font-weight="bold" fill="#000" text-anchor="middle" >29</text><text x="604.4" y="1201.5" font-size="10" font-weight="normal" fill="#000" text-anchor="middle" >Apr</text><text x="632.3" y="1201.5" font-size="10" font-weight="normal" fill="#000" text-anchor="middle" >Jul</text><text x="660.1" y="1201.5" font-size="10" font-weight="normal" fill="#000" text-anchor="middle" >Oct</text><text x="687.5" y="1201.5" font-size="10.5" font-weight="bold" fill="#000" text-anchor="middle" >30</text><text x="715.8" y="1201.5" font-size="10" font-weight="normal" fill="#000" text-anchor="middle" >Apr</text><text x="743.7" y="1201.5" font-size="10" font-weight="normal" fill="#000" text-anchor="middle" >Jul</text><text x="771.6" y="1201.5" font-size="10" font-weight="normal" fill="#000" text-anchor="middle" >Oct</text><text x="798.9" y="1201.5" font-size="10.5" font-weight="bold" fill="#000" text-anchor="middle" >31</text><text x="827.3" y="1201.5" font-size="10" font-weight="normal" fill="#000" text-anchor="middle" >Apr</text><path d="M19.5,782.5v3M19.5,796.5v-3M19.5,1192.5v3M47.5,782.5v3M47.5,796.5v-3M47.5,1192.5v3M75.5,782.5v3M75.5,796.5v-3M75.5,1192.5v3M102.5,782.5v3M102.5,796.5v-3M102.5,1192.5v3M130.5,782.5v3M130.5,796.5v-3M130.5,1192.5v3M158.5,782.5v3M158.5,796.5v-3M158.5,1192.5v3M186.5,782.5v3M186.5,796.5v-3M186.5,1192.5v3M214.5,782.5v3M214.5,796.5v-3M214.5,1192.5v3M242.5,782.5v3M242.5,796.5v-3M242.5,1192.5v3M270.5,782.5v3M270.5,796.5v-3M270.5,1192.5v3M297.5,782.5v3M297.5,796.5v-3M297.5,1192.5v3M325.5,782.5v3M325.5,796.5v-3M325.5,1192.5v3M353.5,782.5v3M353.5,796.5v-3M353.5,1192.5v3M381.5,782.5v3M381.5,796.5v-3M381.5,1192.5v3M409.5,782.5v3M409.5,796.5v-3M409.5,1192.5v3M437.5,782.5v3M437.5,796.5v-3M437.5,1192.5v3M465.5,782.5v3M465.5,796.5v-3M465.5,1192.5v3M492.5,782.5v3M492.5,796.5v-3M492.5,1192.5v3M520.5,782.5v3M520.5,796.5v-3M520.5,1192.5v3M548.5,782.5v3M548.5,796.5v-3M548.5,1192.5v3M576.5,782.5v3M576.5,796.5v-3M576.5,1192.5v3M604.5,782.5v3M604.5,796.5v-3M604.5,1192.5v3M632.5,782.5v3M632.5,796.5v-3M632.5,1192.5v3M660.5,782.5v3M660.5,796.5v-3M660.5,1192.5v3M687.5,782.5v3M687.5,796.5v-3M687.5,1192.5v3M715.5,782.5v3M715.5,796.5v-3M715.5,1192.5v3M743.5,782.5v3M743.5,796.5v-3M743.5,1192.5v3M771.5,782.5v3M771.5,796.5v-3M771.5,1192.5v3M799.5,782.5v3M799.5,796.5v-3M799.5,1192.5v3M827.5,782.5v3M827.5,796.5v-3M827.5,1192.5v3" stroke="#b2b2b2" stroke-width="1" fill="none"/><text x="909.4" y="792.8" font-size="9.6" font-weight="normal" fill="#000" text-anchor="middle" >S</text><text x="909.4" y="1201.8" font-size="9.6" font-weight="normal" fill="#000" text-anchor="middle" >S</text><text x="933.8" y="792.8" font-size="9.6" font-weight="normal" fill="#000" text-anchor="middle" >O</text><text x="933.8" y="1201.8" font-size="9.6" font-weight="normal" fill="#000" text-anchor="middle" >O</text><text x="954.4" y="792.8" font-size="9.6" font-weight="normal" fill="#000" text-anchor="middle" >N</text><text x="954.4" y="1201.8" font-size="9.6" font-weight="normal" fill="#000" text-anchor="middle" >N</text><text x="974.2" y="792.8" font-size="9.6" font-weight="normal" fill="#000" text-anchor="middle" >D</text><text x="974.2" y="1201.8" font-size="9.6" font-weight="normal" fill="#000" text-anchor="middle" >D</text><rect x="241.5" y="899.6" width="2" height="27.9" fill="#8a8a8a" stroke="#555" stroke-width="1"/><rect x="243.5" y="900.4" width="2" height="27.1" fill="#d7737d" stroke="#b83a48" stroke-width="1"/><rect x="245.5" y="904.4" width="2" height="23.1" fill="#d7737d" stroke="#b83a48" stroke-width="1"/><rect x="247.5" y="907.6" width="2" height="19.9" fill="#8a8a8a" stroke="#555" stroke-width="1"/><rect x="249.5" y="902.4" width="2" height="25.1" fill="#8a8a8a" stroke="#555" stroke-width="1"/><rect x="251.5" y="904.4" width="2" height="23.1" fill="#8a8a8a" stroke="#555" stroke-width="1"/><rect x="254.5" y="905.0" width="2" height="22.5" fill="#8a8a8a" stroke="#555" stroke-width="1"/><rect x="255.5" y="906.4" width="2" height="21.1" fill="#d7737d" stroke="#b83a48" stroke-width="1"/><rect x="257.5" y="886.4" width="2" height="41.1" fill="#d7737d" stroke="#b83a48" stroke-width="1"/><rect x="260.5" y="904.4" width="2" height="23.1" fill="#8a8a8a" stroke="#555" stroke-width="1"/><rect x="262.5" y="902.0" width="2" height="25.5" fill="#d7737d" stroke="#b83a48" stroke-width="1"/><rect x="264.5" y="900.0" width="2" height="27.5" fill="#d7737d" stroke="#b83a48" stroke-width="1"/><rect x="266.5" y="897.4" width="2" height="30.1" fill="#d7737d" stroke="#b83a48" stroke-width="1"/><rect x="268.5" y="912.4" width="2" height="15.1" fill="#8a8a8a" stroke="#555" stroke-width="1"/><rect x="270.5" y="908.4" width="2" height="19.1" fill="#d7737d" stroke="#b83a48" stroke-width="1"/><rect x="272.5" y="906.4" width="2" height="21.1" fill="#8a8a8a" stroke="#555" stroke-width="1"/><rect x="275.5" y="909.4" width="2" height="18.1" fill="#8a8a8a" stroke="#555" stroke-width="1"/><rect x="278.5" y="914.4" width="2" height="13.1" fill="#d7737d" stroke="#b83a48" stroke-width="1"/><rect x="281.5" y="912.4" width="2" height="15.1" fill="#d7737d" stroke="#b83a48" stroke-width="1"/><rect x="283.5" y="908.4" width="2" height="19.1" fill="#8a8a8a" stroke="#555" stroke-width="1"/><rect x="285.5" y="912.4" width="2" height="15.1" fill="#8a8a8a" stroke="#555" stroke-width="1"/><rect x="287.5" y="906.4" width="2" height="21.1" fill="#8a8a8a" stroke="#555" stroke-width="1"/><rect x="289.5" y="896.4" width="2" height="31.1" fill="#8a8a8a" stroke="#555" stroke-width="1"/><rect x="292.5" y="904.4" width="2" height="23.1" fill="#d7737d" stroke="#b83a48" stroke-width="1"/><rect x="294.5" y="907.4" width="2" height="20.1" fill="#8a8a8a" stroke="#555" stroke-width="1"/><rect x="296.5" y="910.4" width="2" height="17.1" fill="#d7737d" stroke="#b83a48" stroke-width="1"/><rect x="298.5" y="904.4" width="2" height="23.1" fill="#8a8a8a" stroke="#555" stroke-width="1"/><rect x="300.5" y="903.4" width="2" height="24.1" fill="#d7737d" stroke="#b83a48" stroke-width="1"/><rect x="302.5" y="903.4" width="2" height="24.1" fill="#d7737d" stroke="#b83a48" stroke-width="1"/><rect x="304.5" y="896.4" width="2" height="31.1" fill="#8a8a8a" stroke="#555" stroke-width="1"/><rect x="307.5" y="898.4" width="2" height="29.1" fill="#8a8a8a" stroke="#555" stroke-width="1"/><rect x="309.5" y="901.4" width="2" height="26.1" fill="#d7737d" stroke="#b83a48" stroke-width="1"/><rect x="311.5" y="906.4" width="2" height="21.1" fill="#d7737d" stroke="#b83a48" stroke-width="1"/><rect x="313.5" y="901.4" width="2" height="26.1" fill="#8a8a8a" stroke="#555" stroke-width="1"/><rect x="315.5" y="906.4" width="2" height="21.1" fill="#d7737d" stroke="#b83a48" stroke-width="1"/><rect x="317.5" y="903.4" width="2" height="24.1" fill="#d7737d" stroke="#b83a48" stroke-width="1"/><rect x="320.5" y="904.4" width="2" height="23.1" fill="#8a8a8a" stroke="#555" stroke-width="1"/><rect x="322.5" y="905.4" width="2" height="22.1" fill="#8a8a8a" stroke="#555" stroke-width="1"/><rect x="324.5" y="895.4" width="2" height="32.1" fill="#d7737d" stroke="#b83a48" stroke-width="1"/><rect x="326.5" y="906.4" width="2" height="21.1" fill="#d7737d" stroke="#b83a48" stroke-width="1"/><rect x="328.5" y="901.4" width="2" height="26.1" fill="#8a8a8a" stroke="#555" stroke-width="1"/><rect x="330.5" y="909.4" width="2" height="18.1" fill="#8a8a8a" stroke="#555" stroke-width="1"/><rect x="332.5" y="913.4" width="2" height="14.1" fill="#8a8a8a" stroke="#555" stroke-width="1"/><rect x="334.5" y="906.4" width="2" height="21.1" fill="#8a8a8a" stroke="#555" stroke-width="1"/><rect x="337.5" y="906.4" width="2" height="21.1" fill="#d7737d" stroke="#b83a48" stroke-width="1"/><rect x="339.5" y="910.4" width="2" height="17.1" fill="#8a8a8a" stroke="#555" stroke-width="1"/><rect x="341.5" y="905.4" width="2" height="22.1" fill="#8a8a8a" stroke="#555" stroke-width="1"/><rect x="343.5" y="906.4" width="2" height="21.1" fill="#8a8a8a" stroke="#555" stroke-width="1"/><rect x="345.5" y="900.4" width="2" height="27.1" fill="#8a8a8a" stroke="#555" stroke-width="1"/><rect x="348.5" y="905.4" width="2" height="22.1" fill="#d7737d" stroke="#b83a48" stroke-width="1"/><rect x="349.5" y="904.4" width="2" height="23.1" fill="#d7737d" stroke="#b83a48" stroke-width="1"/><rect x="352.5" y="907.4" width="2" height="20.1" fill="#d7737d" stroke="#b83a48" stroke-width="1"/><rect x="354.5" y="908.4" width="2" height="19.1" fill="#d7737d" stroke="#b83a48" stroke-width="1"/><rect x="356.5" y="905.4" width="2" height="22.1" fill="#8a8a8a" stroke="#555" stroke-width="1"/><rect x="358.5" y="906.4" width="2" height="21.1" fill="#d7737d" stroke="#b83a48" stroke-width="1"/><rect x="360.5" y="903.4" width="2" height="24.1" fill="#8a8a8a" stroke="#555" stroke-width="1"/><rect x="362.5" y="895.4" width="2" height="32.1" fill="#8a8a8a" stroke="#555" stroke-width="1"/><rect x="364.5" y="895.4" width="2" height="32.1" fill="#8a8a8a" stroke="#555" stroke-width="1"/><rect x="366.5" y="903.4" width="2" height="24.1" fill="#8a8a8a" stroke="#555" stroke-width="1"/><rect x="368.5" y="896.4" width="2" height="31.1" fill="#d7737d" stroke="#b83a48" stroke-width="1"/><rect x="371.5" y="901.4" width="2" height="26.1" fill="#8a8a8a" stroke="#555" stroke-width="1"/><rect x="373.5" y="899.4" width="2" height="28.1" fill="#8a8a8a" stroke="#555" stroke-width="1"/><rect x="375.5" y="900.4" width="2" height="27.1" fill="#d7737d" stroke="#b83a48" stroke-width="1"/><rect x="377.5" y="898.4" width="2" height="29.1" fill="#8a8a8a" stroke="#555" stroke-width="1"/><rect x="379.5" y="894.4" width="2" height="33.1" fill="#8a8a8a" stroke="#555" stroke-width="1"/><rect x="381.5" y="902.4" width="2" height="25.1" fill="#8a8a8a" stroke="#555" stroke-width="1"/><rect x="383.5" y="896.4" width="2" height="31.1" fill="#8a8a8a" stroke="#555" stroke-width="1"/><rect x="386.5" y="896.4" width="2" height="31.1" fill="#d7737d" stroke="#b83a48" stroke-width="1"/><rect x="388.5" y="900.4" width="2" height="27.1" fill="#d7737d" stroke="#b83a48" stroke-width="1"/><rect x="390.5" y="901.4" width="2" height="26.1" fill="#8a8a8a" stroke="#555" stroke-width="1"/><rect x="392.5" y="899.4" width="2" height="28.1" fill="#8a8a8a" stroke="#555" stroke-width="1"/><rect x="394.5" y="895.4" width="2" height="32.1" fill="#8a8a8a" stroke="#555" stroke-width="1"/><rect x="396.5" y="900.4" width="2" height="27.1" fill="#d7737d" stroke="#b83a48" stroke-width="1"/><rect x="398.5" y="894.4" width="2" height="33.1" fill="#8a8a8a" stroke="#555" stroke-width="1"/><rect x="401.5" y="903.4" width="2" height="24.1" fill="#d7737d" stroke="#b83a48" stroke-width="1"/><rect x="403.5" y="902.4" width="2" height="25.1" fill="#d7737d" stroke="#b83a48" stroke-width="1"/><rect x="405.5" y="906.4" width="2" height="21.1" fill="#8a8a8a" stroke="#555" stroke-width="1"/><rect x="407.5" y="909.4" width="2" height="18.1" fill="#8a8a8a" stroke="#555" stroke-width="1"/><rect x="409.5" y="904.4" width="2" height="23.1" fill="#8a8a8a" stroke="#555" stroke-width="1"/><rect x="411.5" y="902.4" width="2" height="25.1" fill="#8a8a8a" stroke="#555" stroke-width="1"/><rect x="413.5" y="900.4" width="2" height="27.1" fill="#8a8a8a" stroke="#555" stroke-width="1"/><rect x="415.5" y="893.4" width="2" height="34.1" fill="#8a8a8a" stroke="#555" stroke-width="1"/><rect x="418.5" y="899.4" width="2" height="28.1" fill="#d7737d" stroke="#b83a48" stroke-width="1"/><rect x="420.5" y="902.4" width="2" height="25.1" fill="#8a8a8a" stroke="#555" stroke-width="1"/><rect x="422.5" y="898.4" width="2" height="29.1" fill="#8a8a8a" stroke="#555" stroke-width="1"/><rect x="424.5" y="901.4" width="2" height="26.1" fill="#8a8a8a" stroke="#555" stroke-width="1"/><rect x="426.5" y="899.4" width="2" height="28.1" fill="#8a8a8a" stroke="#555" stroke-width="1"/><rect x="428.5" y="895.4" width="2" height="32.1" fill="#8a8a8a" stroke="#555" stroke-width="1"/><rect x="429.5" y="895.4" width="2" height="32.1" fill="#8a8a8a" stroke="#555" stroke-width="1"/><rect x="431.5" y="897.4" width="2" height="30.1" fill="#d7737d" stroke="#b83a48" stroke-width="1"/><rect x="433.5" y="898.4" width="2" height="29.1" fill="#8a8a8a" stroke="#555" stroke-width="1"/><rect x="435.5" y="893.4" width="2" height="34.1" fill="#d7737d" stroke="#b83a48" stroke-width="1"/><rect x="437.5" y="905.4" width="2" height="22.1" fill="#d7737d" stroke="#b83a48" stroke-width="1"/><rect x="439.5" y="895.4" width="2" height="32.1" fill="#d7737d" stroke="#b83a48" stroke-width="1"/><rect x="442.5" y="898.4" width="2" height="29.1" fill="#8a8a8a" stroke="#555" stroke-width="1"/><rect x="444.5" y="901.4" width="2" height="26.1" fill="#8a8a8a" stroke="#555" stroke-width="1"/><rect x="445.5" y="906.0" width="2" height="21.5" fill="#8a8a8a" stroke="#555" stroke-width="1"/><rect x="448.5" y="894.4" width="2" height="33.1" fill="#8a8a8a" stroke="#555" stroke-width="1"/><rect x="450.5" y="898.4" width="2" height="29.1" fill="#8a8a8a" stroke="#555" stroke-width="1"/><rect x="452.5" y="887.4" width="2" height="40.1" fill="#d7737d" stroke="#b83a48" stroke-width="1"/><rect x="454.5" y="893.4" width="2" height="34.1" fill="#d7737d" stroke="#b83a48" stroke-width="1"/><rect x="456.5" y="889.4" width="2" height="38.1" fill="#8a8a8a" stroke="#555" stroke-width="1"/><rect x="458.5" y="889.4" width="2" height="38.1" fill="#8a8a8a" stroke="#555" stroke-width="1"/><rect x="460.5" y="901.4" width="2" height="26.1" fill="#d7737d" stroke="#b83a48" stroke-width="1"/><rect x="462.5" y="893.4" width="2" height="34.1" fill="#8a8a8a" stroke="#555" stroke-width="1"/><rect x="465.5" y="889.4" width="2" height="38.1" fill="#d7737d" stroke="#b83a48" stroke-width="1"/><rect x="467.5" y="902.4" width="2" height="25.1" fill="#d7737d" stroke="#b83a48" stroke-width="1"/><rect x="469.5" y="890.4" width="2" height="37.1" fill="#8a8a8a" stroke="#555" stroke-width="1"/><rect x="471.5" y="896.4" width="2" height="31.1" fill="#d7737d" stroke="#b83a48" stroke-width="1"/><rect x="473.5" y="891.4" width="2" height="36.1" fill="#8a8a8a" stroke="#555" stroke-width="1"/><rect x="476.5" y="902.4" width="2" height="25.1" fill="#d7737d" stroke="#b83a48" stroke-width="1"/><rect x="477.5" y="905.4" width="2" height="22.1" fill="#8a8a8a" stroke="#555" stroke-width="1"/><rect x="480.5" y="902.4" width="2" height="25.1" fill="#8a8a8a" stroke="#555" stroke-width="1"/><rect x="482.5" y="887.4" width="2" height="40.1" fill="#8a8a8a" stroke="#555" stroke-width="1"/><rect x="484.5" y="874.4" width="2" height="53.1" fill="#8a8a8a" stroke="#555" stroke-width="1"/><rect x="486.5" y="877.4" width="2" height="50.1" fill="#8a8a8a" stroke="#555" stroke-width="1"/><rect x="488.5" y="866.4" width="2" height="61.1" fill="#8a8a8a" stroke="#555" stroke-width="1"/><rect x="490.5" y="889.4" width="2" height="38.1" fill="#d7737d" stroke="#b83a48" stroke-width="1"/><rect x="492.5" y="866.4" width="2" height="61.1" fill="#8a8a8a" stroke="#555" stroke-width="1"/><rect x="495.5" y="872.4" width="2" height="55.1" fill="#d7737d" stroke="#b83a48" stroke-width="1"/><rect x="497.5" y="876.4" width="2" height="51.1" fill="#8a8a8a" stroke="#555" stroke-width="1"/><rect x="499.5" y="871.4" width="2" height="56.1" fill="#8a8a8a" stroke="#555" stroke-width="1"/><rect x="501.5" y="869.4" width="2" height="58.1" fill="#8a8a8a" stroke="#555" stroke-width="1"/><rect x="503.5" y="865.4" width="2" height="62.1" fill="#d7737d" stroke="#b83a48" stroke-width="1"/><rect x="506.5" y="884.4" width="2" height="43.1" fill="#8a8a8a" stroke="#555" stroke-width="1"/><rect x="507.5" y="887.4" width="2" height="40.1" fill="#8a8a8a" stroke="#555" stroke-width="1"/><rect x="509.5" y="879.4" width="2" height="48.1" fill="#d7737d" stroke="#b83a48" stroke-width="1"/><rect x="512.5" y="876.4" width="2" height="51.1" fill="#d7737d" stroke="#b83a48" stroke-width="1"/><rect x="514.5" y="897.4" width="2" height="30.1" fill="#d7737d" stroke="#b83a48" stroke-width="1"/><rect x="517.5" y="902.4" width="2" height="25.1" fill="#8a8a8a" stroke="#555" stroke-width="1"/><rect x="518.5" y="905.4" width="2" height="22.1" fill="#8a8a8a" stroke="#555" stroke-width="1"/><rect x="520.5" y="897.4" width="2" height="30.1" fill="#d7737d" stroke="#b83a48" stroke-width="1"/><rect x="522.5" y="908.4" width="2" height="19.1" fill="#8a8a8a" stroke="#555" stroke-width="1"/><rect x="524.5" y="904.4" width="2" height="23.1" fill="#8a8a8a" stroke="#555" stroke-width="1"/><rect x="526.5" y="900.4" width="2" height="27.1" fill="#8a8a8a" stroke="#555" stroke-width="1"/><rect x="529.5" y="898.4" width="2" height="29.1" fill="#d7737d" stroke="#b83a48" stroke-width="1"/><rect x="531.5" y="893.4" width="2" height="34.1" fill="#8a8a8a" stroke="#555" stroke-width="1"/><rect x="533.5" y="884.4" width="2" height="43.1" fill="#8a8a8a" stroke="#555" stroke-width="1"/><rect x="535.5" y="876.4" width="2" height="51.1" fill="#8a8a8a" stroke="#555" stroke-width="1"/><rect x="537.5" y="879.0" width="2" height="48.5" fill="#8a8a8a" stroke="#555" stroke-width="1"/><rect x="539.5" y="867.4" width="2" height="60.1" fill="#d7737d" stroke="#b83a48" stroke-width="1"/><rect x="541.5" y="867.4" width="2" height="60.1" fill="#d7737d" stroke="#b83a48" stroke-width="1"/><rect x="544.5" y="869.4" width="2" height="58.1" fill="#d7737d" stroke="#b83a48" stroke-width="1"/><rect x="546.5" y="870.4" width="2" height="57.1" fill="#8a8a8a" stroke="#555" stroke-width="1"/><rect x="548.5" y="882.4" width="2" height="45.1" fill="#8a8a8a" stroke="#555" stroke-width="1"/><rect x="550.5" y="866.4" width="2" height="61.1" fill="#8a8a8a" stroke="#555" stroke-width="1"/><rect x="552.5" y="867.4" width="2" height="60.1" fill="#d7737d" stroke="#b83a48" stroke-width="1"/><rect x="554.5" y="877.4" width="2" height="50.1" fill="#8a8a8a" stroke="#555" stroke-width="1"/><rect x="556.5" y="875.4" width="2" height="52.1" fill="#8a8a8a" stroke="#555" stroke-width="1"/><rect x="558.5" y="848.4" width="2" height="79.1" fill="#8a8a8a" stroke="#555" stroke-width="1"/><rect x="561.5" y="841.4" width="2" height="86.1" fill="#8a8a8a" stroke="#555" stroke-width="1"/><rect x="563.5" y="861.4" width="2" height="66.1" fill="#8a8a8a" stroke="#555" stroke-width="1"/><rect x="565.5" y="855.4" width="2" height="72.1" fill="#d7737d" stroke="#b83a48" stroke-width="1"/><rect x="567.5" y="872.4" width="2" height="55.1" fill="#8a8a8a" stroke="#555" stroke-width="1"/><rect x="569.5" y="884.4" width="2" height="43.1" fill="#8a8a8a" stroke="#555" stroke-width="1"/><rect x="571.5" y="883.4" width="2" height="44.1" fill="#8a8a8a" stroke="#555" stroke-width="1"/><rect x="573.5" y="868.4" width="2" height="59.1" fill="#8a8a8a" stroke="#555" stroke-width="1"/><rect x="576.5" y="868.4" width="2" height="59.1" fill="#8a8a8a" stroke="#555" stroke-width="1"/><rect x="577.5" y="868.4" width="2" height="59.1" fill="#d7737d" stroke="#b83a48" stroke-width="1"/><rect x="580.5" y="856.4" width="2" height="71.1" fill="#8a8a8a" stroke="#555" stroke-width="1"/><rect x="582.5" y="862.4" width="2" height="65.1" fill="#8a8a8a" stroke="#555" stroke-width="1"/><rect x="585.5" y="863.4" width="2" height="64.1" fill="#d7737d" stroke="#b83a48" stroke-width="1"/><rect x="587.5" y="882.4" width="2" height="45.1" fill="#d7737d" stroke="#b83a48" stroke-width="1"/><rect x="588.5" y="890.4" width="2" height="37.1" fill="#8a8a8a" stroke="#555" stroke-width="1"/><rect x="591.5" y="863.4" width="2" height="64.1" fill="#8a8a8a" stroke="#555" stroke-width="1"/><rect x="593.5" y="867.4" width="2" height="60.1" fill="#d7737d" stroke="#b83a48" stroke-width="1"/><rect x="595.5" y="869.4" width="2" height="58.1" fill="#8a8a8a" stroke="#555" stroke-width="1"/><rect x="597.5" y="859.4" width="2" height="68.1" fill="#d7737d" stroke="#b83a48" stroke-width="1"/><rect x="599.5" y="857.4" width="2" height="70.1" fill="#d7737d" stroke="#b83a48" stroke-width="1"/><rect x="601.5" y="875.4" width="2" height="52.1" fill="#d7737d" stroke="#b83a48" stroke-width="1"/><rect x="604.5" y="881.4" width="2" height="46.1" fill="#8a8a8a" stroke="#555" stroke-width="1"/><rect x="606.5" y="884.4" width="2" height="43.1" fill="#8a8a8a" stroke="#555" stroke-width="1"/><rect x="608.5" y="873.4" width="2" height="54.1" fill="#8a8a8a" stroke="#555" stroke-width="1"/><rect x="610.5" y="868.4" width="2" height="59.1" fill="#8a8a8a" stroke="#555" stroke-width="1"/><rect x="612.5" y="875.4" width="2" height="52.1" fill="#8a8a8a" stroke="#555" stroke-width="1"/><rect x="614.5" y="875.4" width="2" height="52.1" fill="#d7737d" stroke="#b83a48" stroke-width="1"/><rect x="616.5" y="870.4" width="2" height="57.1" fill="#d7737d" stroke="#b83a48" stroke-width="1"/><rect x="618.5" y="886.4" width="2" height="41.1" fill="#d7737d" stroke="#b83a48" stroke-width="1"/><rect x="620.5" y="883.4" width="2" height="44.1" fill="#8a8a8a" stroke="#555" stroke-width="1"/><rect x="623.5" y="891.4" width="2" height="36.1" fill="#8a8a8a" stroke="#555" stroke-width="1"/><rect x="625.5" y="883.4" width="2" height="44.1" fill="#8a8a8a" stroke="#555" stroke-width="1"/><rect x="627.5" y="877.4" width="2" height="50.1" fill="#8a8a8a" stroke="#555" stroke-width="1"/><rect x="629.5" y="879.4" width="2" height="48.1" fill="#8a8a8a" stroke="#555" stroke-width="1"/><rect x="631.5" y="868.4" width="2" height="59.1" fill="#8a8a8a" stroke="#555" stroke-width="1"/><rect x="633.5" y="867.4" width="2" height="60.1" fill="#d7737d" stroke="#b83a48" stroke-width="1"/><rect x="636.5" y="875.4" width="2" height="52.1" fill="#8a8a8a" stroke="#555" stroke-width="1"/><rect x="638.5" y="881.4" width="2" height="46.1" fill="#8a8a8a" stroke="#555" stroke-width="1"/><rect x="639.5" y="874.4" width="2" height="53.1" fill="#d7737d" stroke="#b83a48" stroke-width="1"/><rect x="642.5" y="870.4" width="2" height="57.1" fill="#8a8a8a" stroke="#555" stroke-width="1"/><rect x="644.5" y="866.4" width="2" height="61.1" fill="#8a8a8a" stroke="#555" stroke-width="1"/><rect x="646.5" y="870.4" width="2" height="57.1" fill="#8a8a8a" stroke="#555" stroke-width="1"/><rect x="648.5" y="871.4" width="2" height="56.1" fill="#d7737d" stroke="#b83a48" stroke-width="1"/><rect x="650.5" y="858.4" width="2" height="69.1" fill="#d7737d" stroke="#b83a48" stroke-width="1"/><rect x="652.5" y="866.4" width="2" height="61.1" fill="#d7737d" stroke="#b83a48" stroke-width="1"/><rect x="655.5" y="864.4" width="2" height="63.1" fill="#d7737d" stroke="#b83a48" stroke-width="1"/><rect x="657.5" y="866.4" width="2" height="61.1" fill="#d7737d" stroke="#b83a48" stroke-width="1"/><rect x="659.5" y="873.4" width="2" height="54.1" fill="#8a8a8a" stroke="#555" stroke-width="1"/><rect x="661.5" y="878.4" width="2" height="49.1" fill="#d7737d" stroke="#b83a48" stroke-width="1"/><rect x="663.5" y="827.4" width="2" height="100.1" fill="#d7737d" stroke="#b83a48" stroke-width="1"/><rect x="665.5" y="803.4" width="2" height="124.1" fill="#d7737d" stroke="#b83a48" stroke-width="1"/><rect x="667.5" y="863.4" width="2" height="64.1" fill="#d7737d" stroke="#b83a48" stroke-width="1"/><rect x="670.5" y="848.4" width="2" height="79.1" fill="#d7737d" stroke="#b83a48" stroke-width="1"/><rect x="672.5" y="887.4" width="2" height="40.1" fill="#8a8a8a" stroke="#555" stroke-width="1"/><rect x="674.5" y="902.4" width="2" height="25.1" fill="#d7737d" stroke="#b83a48" stroke-width="1"/><rect x="676.5" y="871.4" width="2" height="56.1" fill="#8a8a8a" stroke="#555" stroke-width="1"/><rect x="678.5" y="866.4" width="2" height="61.1" fill="#d7737d" stroke="#b83a48" stroke-width="1"/><rect x="680.5" y="881.4" width="2" height="46.1" fill="#d7737d" stroke="#b83a48" stroke-width="1"/><rect x="682.5" y="898.4" width="2" height="29.1" fill="#8a8a8a" stroke="#555" stroke-width="1"/><rect x="685.5" y="894.4" width="2" height="33.1" fill="#8a8a8a" stroke="#555" stroke-width="1"/><rect x="687.5" y="897.4" width="2" height="30.1" fill="#8a8a8a" stroke="#555" stroke-width="1"/><rect x="689.5" y="894.4" width="2" height="33.1" fill="#d7737d" stroke="#b83a48" stroke-width="1"/><rect x="691.5" y="891.4" width="2" height="36.1" fill="#8a8a8a" stroke="#555" stroke-width="1"/><rect x="693.5" y="879.4" width="2" height="48.1" fill="#8a8a8a" stroke="#555" stroke-width="1"/><rect x="695.5" y="875.4" width="2" height="52.1" fill="#8a8a8a" stroke="#555" stroke-width="1"/><rect x="697.5" y="889.4" width="2" height="38.1" fill="#8a8a8a" stroke="#555" stroke-width="1"/><rect x="700.5" y="880.4" width="2" height="47.1" fill="#d7737d" stroke="#b83a48" stroke-width="1"/><rect x="702.5" y="886.4" width="2" height="41.1" fill="#8a8a8a" stroke="#555" stroke-width="1"/><rect x="704.5" y="877.4" width="2" height="50.1" fill="#8a8a8a" stroke="#555" stroke-width="1"/><rect x="706.5" y="874.4" width="2" height="53.1" fill="#d7737d" stroke="#b83a48" stroke-width="1"/><rect x="708.5" y="870.4" width="2" height="57.1" fill="#8a8a8a" stroke="#555" stroke-width="1"/><rect x="710.5" y="861.4" width="2" height="66.1" fill="#8a8a8a" stroke="#555" stroke-width="1"/><rect x="712.5" y="852.4" width="2" height="75.1" fill="#8a8a8a" stroke="#555" stroke-width="1"/><rect x="714.5" y="851.4" width="2" height="76.1" fill="#8a8a8a" stroke="#555" stroke-width="1"/><rect x="717.5" y="880.4" width="2" height="47.1" fill="#8a8a8a" stroke="#555" stroke-width="1"/><rect x="719.5" y="857.4" width="2" height="70.1" fill="#d7737d" stroke="#b83a48" stroke-width="1"/><rect x="721.5" y="855.4" width="2" height="72.1" fill="#d7737d" stroke="#b83a48" stroke-width="1"/><rect x="723.5" y="859.4" width="2" height="68.1" fill="#8a8a8a" stroke="#555" stroke-width="1"/><rect x="725.5" y="889.4" width="2" height="38.1" fill="#8a8a8a" stroke="#555" stroke-width="1"/><rect x="727.5" y="893.4" width="2" height="34.1" fill="#d7737d" stroke="#b83a48" stroke-width="1"/><rect x="729.5" y="902.4" width="2" height="25.1" fill="#8a8a8a" stroke="#555" stroke-width="1"/><rect x="731.5" y="900.4" width="2" height="27.1" fill="#d7737d" stroke="#b83a48" stroke-width="1"/><rect x="734.5" y="870.4" width="2" height="57.1" fill="#d7737d" stroke="#b83a48" stroke-width="1"/><rect x="736.5" y="852.4" width="2" height="75.1" fill="#d7737d" stroke="#b83a48" stroke-width="1"/><rect x="738.5" y="886.4" width="2" height="41.1" fill="#d7737d" stroke="#b83a48" stroke-width="1"/><rect x="740.5" y="908.4" width="2" height="19.1" fill="#8a8a8a" stroke="#555" stroke-width="1"/><rect x="742.5" y="904.4" width="2" height="23.1" fill="#8a8a8a" stroke="#555" stroke-width="1"/><rect x="744.5" y="889.4" width="2" height="38.1" fill="#8a8a8a" stroke="#555" stroke-width="1"/><rect x="747.5" y="901.4" width="2" height="26.1" fill="#d7737d" stroke="#b83a48" stroke-width="1"/><rect x="749.5" y="899.4" width="2" height="28.1" fill="#d7737d" stroke="#b83a48" stroke-width="1"/><rect x="751.5" y="903.4" width="2" height="24.1" fill="#d7737d" stroke="#b83a48" stroke-width="1"/><rect x="753.5" y="900.4" width="2" height="27.1" fill="#8a8a8a" stroke="#555" stroke-width="1"/><rect x="755.5" y="904.4" width="2" height="23.1" fill="#8a8a8a" stroke="#555" stroke-width="1"/><rect x="757.5" y="902.4" width="2" height="25.1" fill="#8a8a8a" stroke="#555" stroke-width="1"/><rect x="759.5" y="908.4" width="2" height="19.1" fill="#d7737d" stroke="#b83a48" stroke-width="1"/><rect x="761.5" y="898.4" width="2" height="29.1" fill="#8a8a8a" stroke="#555" stroke-width="1"/><rect x="764.5" y="902.4" width="2" height="25.1" fill="#d7737d" stroke="#b83a48" stroke-width="1"/><rect x="766.5" y="886.4" width="2" height="41.1" fill="#d7737d" stroke="#b83a48" stroke-width="1"/><rect x="768.5" y="883.4" width="2" height="44.1" fill="#8a8a8a" stroke="#555" stroke-width="1"/><rect x="770.5" y="872.4" width="2" height="55.1" fill="#d7737d" stroke="#b83a48" stroke-width="1"/><rect x="772.5" y="898.4" width="2" height="29.1" fill="#d7737d" stroke="#b83a48" stroke-width="1"/><rect x="774.5" y="891.4" width="2" height="36.1" fill="#8a8a8a" stroke="#555" stroke-width="1"/><rect x="777.5" y="900.4" width="2" height="27.1" fill="#d7737d" stroke="#b83a48" stroke-width="1"/><rect x="779.5" y="901.4" width="2" height="26.1" fill="#d7737d" stroke="#b83a48" stroke-width="1"/><rect x="781.5" y="878.4" width="2" height="49.1" fill="#8a8a8a" stroke="#555" stroke-width="1"/><rect x="783.5" y="901.4" width="2" height="26.1" fill="#8a8a8a" stroke="#555" stroke-width="1"/><rect x="785.5" y="917.4" width="2" height="10.1" fill="#d7737d" stroke="#b83a48" stroke-width="1"/><rect x="787.5" y="907.4" width="2" height="20.1" fill="#8a8a8a" stroke="#555" stroke-width="1"/><rect x="789.5" y="893.4" width="2" height="34.1" fill="#d7737d" stroke="#b83a48" stroke-width="1"/><rect x="791.5" y="876.4" width="2" height="51.1" fill="#8a8a8a" stroke="#555" stroke-width="1"/><rect x="794.5" y="905.4" width="2" height="22.1" fill="#d7737d" stroke="#b83a48" stroke-width="1"/><rect x="796.5" y="904.4" width="2" height="23.1" fill="#8a8a8a" stroke="#555" stroke-width="1"/><rect x="905.5" y="871.0" width="1" height="56.5" fill="#8a8a8a" stroke="#555" stroke-width="1"/><rect x="906.5" y="885.1" width="5" height="42.4" fill="#d7737d" stroke="#b83a48" stroke-width="1"/><rect x="911.5" y="861.3" width="5" height="66.2" fill="#8a8a8a" stroke="#555" stroke-width="1"/><rect x="916.5" y="871.4" width="5" height="56.1" fill="#d7737d" stroke="#b83a48" stroke-width="1"/><rect x="921.5" y="835.2" width="5" height="92.3" fill="#d7737d" stroke="#b83a48" stroke-width="1"/><rect x="926.5" y="826.3" width="5" height="101.2" fill="#8a8a8a" stroke="#555" stroke-width="1"/><rect x="931.5" y="803.2" width="5" height="124.3" fill="#d7737d" stroke="#b83a48" stroke-width="1"/><rect x="936.5" y="862.3" width="5" height="65.2" fill="#d7737d" stroke="#b83a48" stroke-width="1"/><rect x="941.5" y="846.3" width="5" height="81.2" fill="#8a8a8a" stroke="#555" stroke-width="1"/><rect x="946.5" y="866.3" width="5" height="61.2" fill="#d7737d" stroke="#b83a48" stroke-width="1"/><rect x="951.5" y="868.2" width="5" height="59.3" fill="#d7737d" stroke="#b83a48" stroke-width="1"/><rect x="956.5" y="817.3" width="5" height="110.2" fill="#8a8a8a" stroke="#555" stroke-width="1"/><rect x="961.5" y="868.2" width="5" height="59.3" fill="#8a8a8a" stroke="#555" stroke-width="1"/><rect x="966.5" y="903.4" width="5" height="24.1" fill="#d7737d" stroke="#b83a48" stroke-width="1"/><rect x="971.5" y="882.5" width="5" height="45.0" fill="#8a8a8a" stroke="#555" stroke-width="1"/><rect x="976.5" y="850.5" width="5" height="77.0" fill="#d7737d" stroke="#b83a48" stroke-width="1"/><rect x="981.5" y="811.4" width="5" height="116.1" fill="#8a8a8a" stroke="#555" stroke-width="1"/><rect x="986.5" y="877.1" width="5" height="50.4" fill="#d7737d" stroke="#b83a48" stroke-width="1"/><rect x="991.5" y="875.2" width="5" height="52.3" fill="#8a8a8a" stroke="#555" stroke-width="1"/><text x="884" y="802.1" font-size="9.2" font-weight="normal" fill="#000" text-anchor="end" textLength="24" lengthAdjust="spacingAndGlyphs" >4.5M</text><text x="884" y="816.37" font-size="9.2" font-weight="normal" fill="#000" text-anchor="end" textLength="24" lengthAdjust="spacingAndGlyphs" >4.0M</text><text x="884" y="830.64" font-size="9.2" font-weight="normal" fill="#000" text-anchor="end" textLength="24" lengthAdjust="spacingAndGlyphs" >3.5M</text><text x="884" y="844.91" font-size="9.2" font-weight="normal" fill="#000" text-anchor="end" textLength="24" lengthAdjust="spacingAndGlyphs" >3.0M</text><text x="884" y="859.1800000000001" font-size="9.2" font-weight="normal" fill="#000" text-anchor="end" textLength="24" lengthAdjust="spacingAndGlyphs" >2.5M</text><text x="884" y="873.45" font-size="9.2" font-weight="normal" fill="#000" text-anchor="end" textLength="24" lengthAdjust="spacingAndGlyphs" >2.0M</text><text x="884" y="887.72" font-size="9.2" font-weight="normal" fill="#000" text-anchor="end" textLength="24" lengthAdjust="spacingAndGlyphs" >1.5M</text><text x="884" y="901.99" font-size="9.2" font-weight="normal" fill="#000" text-anchor="end" textLength="24" lengthAdjust="spacingAndGlyphs" >1.0M</text><text x="884" y="916.26" font-size="9.2" font-weight="normal" fill="#000" text-anchor="end" textLength="25.5" lengthAdjust="spacingAndGlyphs" >500K</text><text x="1033.3" y="802.1" font-size="9.2" font-weight="normal" fill="#000" text-anchor="end" textLength="29.3" lengthAdjust="spacingAndGlyphs" >2.00M</text><text x="1033.3" y="818.1" font-size="9.2" font-weight="normal" fill="#000" text-anchor="end" textLength="29.3" lengthAdjust="spacingAndGlyphs" >1.75M</text><text x="1033.3" y="834.1" font-size="9.2" font-weight="normal" fill="#000" text-anchor="end" textLength="29.3" lengthAdjust="spacingAndGlyphs" >1.50M</text><text x="1033.3" y="850.1" font-size="9.2" font-weight="normal" fill="#000" text-anchor="end" textLength="29.3" lengthAdjust="spacingAndGlyphs" >1.25M</text><text x="1033.3" y="866.1" font-size="9.2" font-weight="normal" fill="#000" text-anchor="end" textLength="29.3" lengthAdjust="spacingAndGlyphs" >1.00M</text><text x="1033.3" y="882.1" font-size="9.2" font-weight="normal" fill="#000" text-anchor="end" textLength="24.7" lengthAdjust="spacingAndGlyphs" >750K</text><text x="1033.3" y="898.1" font-size="9.2" font-weight="normal" fill="#000" text-anchor="end" textLength="24.7" lengthAdjust="spacingAndGlyphs" >500K</text><text x="1033.3" y="914.1" font-size="9.2" font-weight="normal" fill="#000" text-anchor="end" textLength="24.7" lengthAdjust="spacingAndGlyphs" >250K</text><path d="M856.0,798.5h2 M856.0,812.5h2 M856.0,827.5h2 M856.0,841.5h2 M856.0,855.5h2 M856.0,870.5h2 M856.0,884.5h2 M856.0,898.5h2 M856.0,912.5h2" stroke="#b2b2b2" stroke-width="1" fill="none" shape-rendering="crispEdges"/><path d="M1001.0,798.5h2 M1001.0,814.5h2 M1001.0,830.5h2 M1001.0,846.5h2 M1001.0,862.5h2 M1001.0,878.5h2 M1001.0,894.5h2 M1001.0,910.5h2" stroke="#b2b2b2" stroke-width="1" fill="none" shape-rendering="crispEdges"/><path d="M19.5,806.5v-4h2v4M22.5,806.5v-8h2v8M25.5,806.5v-6h2v6" fill="#888" stroke="#444" stroke-width="1"/><text x="31.6" y="806.7" font-size="10" font-weight="normal" fill="#000" text-anchor="start" textLength="89" lengthAdjust="spacingAndGlyphs" >Volume 815,500</text><g fill="#5aa6d2" stroke="#1f6e9e" stroke-width="1" shape-rendering="crispEdges"><rect x="18.5" y="989.5" width="2" height="1.0"/><rect x="20.5" y="989.5" width="2" height="1.0"/><rect x="22.5" y="989.5" width="2" height="1.0"/><rect x="25.5" y="989.5" width="2" height="1.0"/><rect x="27.5" y="989.5" width="2" height="1.0"/><rect x="29.5" y="989.5" width="2" height="1.0"/><rect x="31.5" y="989.5" width="2" height="1.0"/><rect x="33.5" y="989.5" width="2" height="0.01"/><rect x="35.5" y="990.5" width="2" height="0.01"/><rect x="37.5" y="990.5" width="2" height="0.01"/><rect x="40.5" y="990.5" width="2" height="1.0"/><rect x="42.5" y="990.5" width="2" height="1.0"/><rect x="44.5" y="990.5" width="2" height="1.0"/><rect x="46.5" y="990.5" width="2" height="2.0"/><rect x="48.5" y="990.5" width="2" height="2.0"/><rect x="50.5" y="990.5" width="2" height="2.0"/><rect x="52.5" y="990.5" width="2" height="2.0"/><rect x="55.5" y="990.5" width="2" height="2.0"/><rect x="57.5" y="990.5" width="2" height="2.0"/><rect x="59.5" y="990.5" width="2" height="2.0"/><rect x="61.5" y="990.5" width="2" height="2.0"/><rect x="63.5" y="990.5" width="2" height="1.0"/><rect x="65.5" y="990.5" width="2" height="1.0"/><rect x="67.5" y="990.5" width="2" height="1.0"/><rect x="69.5" y="990.5" width="2" height="0.01"/><rect x="72.5" y="990.5" width="2" height="0.01"/><rect x="74.5" y="990.5" width="2" height="0.01"/><rect x="76.5" y="989.5" width="2" height="1.0"/><rect x="78.5" y="989.5" width="2" height="1.0"/><rect x="80.5" y="989.5" width="2" height="1.0"/><rect x="82.5" y="989.5" width="2" height="1.0"/><rect x="84.5" y="989.5" width="2" height="1.0"/><rect x="87.5" y="989.5" width="2" height="1.0"/><rect x="89.5" y="989.5" width="2" height="1.0"/><rect x="91.5" y="989.5" width="2" height="1.0"/><rect x="93.5" y="989.5" width="2" height="0.01"/><rect x="95.5" y="990.5" width="2" height="0.01"/><rect x="97.5" y="990.5" width="2" height="0.01"/><rect x="99.5" y="990.5" width="2" height="1.0"/><rect x="101.5" y="990.5" width="2" height="1.0"/><rect x="104.5" y="990.5" width="2" height="1.0"/><rect x="106.5" y="990.5" width="2" height="1.0"/><rect x="108.5" y="990.5" width="2" height="1.0"/><rect x="110.5" y="990.5" width="2" height="0.01"/><rect x="112.5" y="990.5" width="2" height="0.01"/><rect x="114.5" y="990.5" width="2" height="0.01"/><rect x="116.5" y="989.5" width="2" height="0.01"/><rect x="119.5" y="989.5" width="2" height="1.0"/><rect x="121.5" y="989.5" width="2" height="1.0"/><rect x="123.5" y="988.5" width="2" height="2.0"/><rect x="125.5" y="988.5" width="2" height="2.0"/><rect x="127.5" y="988.5" width="2" height="2.0"/><rect x="129.5" y="988.5" width="2" height="2.0"/><rect x="131.5" y="988.5" width="2" height="2.0"/><rect x="134.5" y="988.5" width="2" height="2.0"/><rect x="136.5" y="988.5" width="2" height="2.0"/><rect x="138.5" y="989.5" width="2" height="1.0"/><rect x="140.5" y="989.5" width="2" height="1.0"/><rect x="142.5" y="990.5" width="2" height="0.01"/><rect x="144.5" y="990.5" width="2" height="0.01"/><rect x="146.5" y="990.5" width="2" height="1.0"/><rect x="148.5" y="990.5" width="2" height="1.0"/><rect x="151.5" y="990.5" width="2" height="2.0"/><rect x="153.5" y="990.5" width="2" height="3.0"/><rect x="155.5" y="990.5" width="2" height="3.0"/><rect x="157.5" y="990.5" width="2" height="3.0"/><rect x="159.5" y="990.5" width="2" height="3.0"/><rect x="161.5" y="990.5" width="2" height="3.0"/><rect x="163.5" y="990.5" width="2" height="2.0"/><rect x="166.5" y="990.5" width="2" height="2.0"/><rect x="168.5" y="990.5" width="2" height="1.0"/><rect x="170.5" y="991.5" width="2" height="0.01"/><rect x="172.5" y="991.5" width="2" height="0.01"/><rect x="174.5" y="990.5" width="2" height="0.01"/><rect x="176.5" y="990.5" width="2" height="0.01"/><rect x="178.5" y="990.5" width="2" height="0.01"/><rect x="180.5" y="990.5" width="2" height="0.01"/><rect x="183.5" y="990.5" width="2" height="0.01"/><rect x="185.5" y="990.5" width="2" height="0.01"/><rect x="187.5" y="990.5" width="2" height="0.01"/><rect x="189.5" y="990.5" width="2" height="0.01"/><rect x="191.5" y="990.5" width="2" height="0.01"/><rect x="193.5" y="990.5" width="2" height="0.01"/><rect x="195.5" y="990.5" width="2" height="0.01"/><rect x="198.5" y="989.5" width="2" height="0.01"/><rect x="200.5" y="989.5" width="2" height="1.0"/><rect x="202.5" y="989.5" width="2" height="1.0"/><rect x="204.5" y="989.5" width="2" height="1.0"/><rect x="206.5" y="989.5" width="2" height="1.0"/><rect x="208.5" y="989.5" width="2" height="1.0"/><rect x="210.5" y="989.5" width="2" height="1.0"/><rect x="213.5" y="989.5" width="2" height="1.0"/><rect x="215.5" y="989.5" width="2" height="1.0"/><rect x="217.5" y="989.5" width="2" height="1.0"/><rect x="219.5" y="989.5" width="2" height="1.0"/><rect x="221.5" y="988.5" width="2" height="2.0"/><rect x="223.5" y="988.5" width="2" height="2.0"/><rect x="225.5" y="989.5" width="2" height="1.0"/><rect x="227.5" y="990.5" width="2" height="0.01"/><rect x="230.5" y="990.5" width="2" height="1.0"/><rect x="232.5" y="990.5" width="2" height="1.0"/><rect x="234.5" y="990.5" width="2" height="1.0"/><rect x="236.5" y="990.5" width="2" height="2.0"/><rect x="238.5" y="990.5" width="2" height="2.0"/><rect x="240.5" y="990.5" width="2" height="2.0"/><rect x="242.5" y="990.5" width="2" height="2.0"/><rect x="245.5" y="990.5" width="2" height="2.0"/><rect x="247.5" y="990.5" width="2" height="2.0"/><rect x="249.5" y="990.5" width="2" height="2.0"/><rect x="251.5" y="990.5" width="2" height="2.0"/><rect x="253.5" y="990.5" width="2" height="2.0"/><rect x="255.5" y="990.5" width="2" height="3.0"/><rect x="257.5" y="990.5" width="2" height="3.0"/><rect x="260.5" y="990.5" width="2" height="4.0"/><rect x="262.5" y="990.5" width="2" height="5.0"/><rect x="264.5" y="990.5" width="2" height="6.0"/><rect x="266.5" y="990.5" width="2" height="7.0"/><rect x="268.5" y="990.5" width="2" height="7.0"/><rect x="270.5" y="990.5" width="2" height="7.0"/><rect x="272.5" y="990.5" width="2" height="6.0"/><rect x="274.5" y="990.5" width="2" height="6.0"/><rect x="277.5" y="990.5" width="2" height="5.0"/><rect x="279.5" y="990.5" width="2" height="4.0"/><rect x="281.5" y="990.5" width="2" height="4.0"/><rect x="283.5" y="990.5" width="2" height="2.0"/><rect x="285.5" y="990.5" width="2" height="1.0"/><rect x="287.5" y="990.5" width="2" height="0.01"/><rect x="289.5" y="990.5" width="2" height="0.01"/><rect x="292.5" y="989.5" width="2" height="1.0"/><rect x="294.5" y="988.5" width="2" height="2.0"/><rect x="296.5" y="988.5" width="2" height="2.0"/><rect x="298.5" y="987.5" width="2" height="3.0"/><rect x="300.5" y="987.5" width="2" height="3.0"/><rect x="302.5" y="987.5" width="2" height="3.0"/><rect x="304.5" y="986.5" width="2" height="4.0"/><rect x="306.5" y="986.5" width="2" height="4.0"/><rect x="309.5" y="986.5" width="2" height="4.0"/><rect x="311.5" y="987.5" width="2" height="3.0"/><rect x="313.5" y="987.5" width="2" height="3.0"/><rect x="315.5" y="988.5" width="2" height="2.0"/><rect x="317.5" y="989.5" width="2" height="1.0"/><rect x="319.5" y="990.5" width="2" height="0.01"/><rect x="321.5" y="990.5" width="2" height="1.0"/><rect x="324.5" y="990.5" width="2" height="2.0"/><rect x="326.5" y="990.5" width="2" height="3.0"/><rect x="328.5" y="990.5" width="2" height="4.0"/><rect x="330.5" y="990.5" width="2" height="4.0"/><rect x="332.5" y="990.5" width="2" height="4.0"/><rect x="334.5" y="990.5" width="2" height="4.0"/><rect x="336.5" y="990.5" width="2" height="3.0"/><rect x="339.5" y="990.5" width="2" height="2.0"/><rect x="341.5" y="990.5" width="2" height="2.0"/><rect x="343.5" y="990.5" width="2" height="1.0"/><rect x="345.5" y="990.5" width="2" height="0.01"/><rect x="347.5" y="990.5" width="2" height="0.01"/><rect x="349.5" y="990.5" width="2" height="0.01"/><rect x="351.5" y="990.5" width="2" height="0.01"/><rect x="353.5" y="990.5" width="2" height="1.0"/><rect x="356.5" y="990.5" width="2" height="1.0"/><rect x="358.5" y="990.5" width="2" height="1.0"/><rect x="360.5" y="990.5" width="2" height="1.0"/><rect x="362.5" y="990.5" width="2" height="1.0"/><rect x="364.5" y="990.5" width="2" height="1.0"/><rect x="366.5" y="990.5" width="2" height="0.01"/><rect x="368.5" y="990.5" width="2" height="0.01"/><rect x="371.5" y="989.5" width="2" height="1.0"/><rect x="373.5" y="989.5" width="2" height="1.0"/><rect x="375.5" y="989.5" width="2" height="1.0"/><rect x="377.5" y="989.5" width="2" height="1.0"/><rect x="379.5" y="989.5" width="2" height="1.0"/><rect x="381.5" y="989.5" width="2" height="1.0"/><rect x="383.5" y="989.5" width="2" height="1.0"/><rect x="386.5" y="989.5" width="2" height="1.0"/><rect x="388.5" y="989.5" width="2" height="1.0"/><rect x="390.5" y="989.5" width="2" height="1.0"/><rect x="392.5" y="988.5" width="2" height="2.0"/><rect x="394.5" y="988.5" width="2" height="2.0"/><rect x="396.5" y="989.5" width="2" height="1.0"/><rect x="398.5" y="989.5" width="2" height="1.0"/><rect x="400.5" y="989.5" width="2" height="0.01"/><rect x="403.5" y="990.5" width="2" height="0.01"/><rect x="405.5" y="991.5" width="2" height="0.01"/><rect x="407.5" y="990.5" width="2" height="0.01"/><rect x="409.5" y="989.5" width="2" height="1.0"/><rect x="411.5" y="989.5" width="2" height="1.0"/><rect x="413.5" y="989.5" width="2" height="1.0"/><rect x="415.5" y="988.5" width="2" height="2.0"/><rect x="418.5" y="988.5" width="2" height="2.0"/><rect x="420.5" y="988.5" width="2" height="2.0"/><rect x="422.5" y="988.5" width="2" height="2.0"/><rect x="424.5" y="987.5" width="2" height="3.0"/><rect x="426.5" y="986.5" width="2" height="4.0"/><rect x="428.5" y="986.5" width="2" height="4.0"/><rect x="430.5" y="986.5" width="2" height="4.0"/><rect x="432.5" y="986.5" width="2" height="4.0"/><rect x="435.5" y="987.5" width="2" height="3.0"/><rect x="437.5" y="988.5" width="2" height="2.0"/><rect x="439.5" y="990.5" width="2" height="0.01"/><rect x="441.5" y="990.5" width="2" height="3.0"/><rect x="443.5" y="990.5" width="2" height="3.0"/><rect x="445.5" y="990.5" width="2" height="2.0"/><rect x="447.5" y="990.5" width="2" height="2.0"/><rect x="450.5" y="990.5" width="2" height="1.0"/><rect x="452.5" y="990.5" width="2" height="1.0"/><rect x="454.5" y="990.5" width="2" height="1.0"/><rect x="456.5" y="990.5" width="2" height="1.0"/><rect x="458.5" y="990.5" width="2" height="1.0"/><rect x="460.5" y="990.5" width="2" height="1.0"/><rect x="462.5" y="990.5" width="2" height="1.0"/><rect x="465.5" y="990.5" width="2" height="1.0"/><rect x="467.5" y="990.5" width="2" height="2.0"/><rect x="469.5" y="990.5" width="2" height="2.0"/><rect x="471.5" y="990.5" width="2" height="3.0"/><rect x="473.5" y="990.5" width="2" height="3.0"/><rect x="475.5" y="990.5" width="2" height="4.0"/><rect x="477.5" y="990.5" width="2" height="4.0"/><rect x="479.5" y="990.5" width="2" height="4.0"/><rect x="482.5" y="990.5" width="2" height="3.0"/><rect x="484.5" y="990.5" width="2" height="2.0"/><rect x="486.5" y="991.5" width="2" height="0.01"/><rect x="488.5" y="989.5" width="2" height="1.0"/><rect x="490.5" y="988.5" width="2" height="2.0"/><rect x="492.5" y="988.5" width="2" height="2.0"/><rect x="494.5" y="988.5" width="2" height="2.0"/><rect x="497.5" y="988.5" width="2" height="2.0"/><rect x="499.5" y="988.5" width="2" height="2.0"/><rect x="501.5" y="988.5" width="2" height="2.0"/><rect x="503.5" y="988.5" width="2" height="2.0"/><rect x="505.5" y="988.5" width="2" height="2.0"/><rect x="507.5" y="989.5" width="2" height="1.0"/><rect x="509.5" y="990.5" width="2" height="0.01"/><rect x="511.5" y="990.5" width="2" height="2.0"/><rect x="514.5" y="990.5" width="2" height="4.0"/><rect x="516.5" y="990.5" width="2" height="5.0"/><rect x="518.5" y="990.5" width="2" height="4.0"/><rect x="520.5" y="990.5" width="2" height="4.0"/><rect x="522.5" y="990.5" width="2" height="4.0"/><rect x="524.5" y="990.5" width="2" height="3.0"/><rect x="526.5" y="990.5" width="2" height="2.0"/><rect x="529.5" y="990.5" width="2" height="1.0"/><rect x="531.5" y="990.5" width="2" height="0.01"/><rect x="533.5" y="988.5" width="2" height="2.0"/><rect x="535.5" y="984.5" width="2" height="6.0"/><rect x="537.5" y="984.5" width="2" height="6.0"/><rect x="539.5" y="984.5" width="2" height="6.0"/><rect x="541.5" y="985.5" width="2" height="5.0"/><rect x="544.5" y="986.5" width="2" height="4.0"/><rect x="546.5" y="986.5" width="2" height="4.0"/><rect x="548.5" y="986.5" width="2" height="4.0"/><rect x="550.5" y="985.5" width="2" height="5.0"/><rect x="552.5" y="985.5" width="2" height="5.0"/><rect x="554.5" y="984.5" width="2" height="6.0"/><rect x="556.5" y="984.5" width="2" height="6.0"/><rect x="558.5" y="982.5" width="2" height="8.0"/><rect x="561.5" y="980.5" width="2" height="10.0"/><rect x="563.5" y="979.5" width="2" height="11.0"/><rect x="565.5" y="982.5" width="2" height="8.0"/><rect x="567.5" y="984.5" width="2" height="6.0"/><rect x="569.5" y="984.5" width="2" height="6.0"/><rect x="571.5" y="983.5" width="2" height="7.0"/><rect x="573.5" y="983.5" width="2" height="7.0"/><rect x="576.5" y="983.5" width="2" height="7.0"/><rect x="578.5" y="984.5" width="2" height="6.0"/><rect x="580.5" y="984.5" width="2" height="6.0"/><rect x="582.5" y="984.5" width="2" height="6.0"/><rect x="584.5" y="984.5" width="2" height="6.0"/><rect x="586.5" y="988.5" width="2" height="2.0"/><rect x="588.5" y="989.5" width="2" height="1.0"/><rect x="591.5" y="990.5" width="2" height="0.01"/><rect x="593.5" y="990.5" width="2" height="1.0"/><rect x="595.5" y="990.5" width="2" height="2.0"/><rect x="597.5" y="990.5" width="2" height="4.0"/><rect x="599.5" y="990.5" width="2" height="6.0"/><rect x="601.5" y="990.5" width="2" height="7.0"/><rect x="603.5" y="990.5" width="2" height="8.0"/><rect x="605.5" y="990.5" width="2" height="7.0"/><rect x="608.5" y="990.5" width="2" height="6.0"/><rect x="610.5" y="990.5" width="2" height="6.0"/><rect x="612.5" y="990.5" width="2" height="4.0"/><rect x="614.5" y="990.5" width="2" height="5.0"/><rect x="616.5" y="990.5" width="2" height="8.0"/><rect x="618.5" y="990.5" width="2" height="9.0"/><rect x="620.5" y="990.5" width="2" height="9.0"/><rect x="623.5" y="990.5" width="2" height="8.0"/><rect x="625.5" y="990.5" width="2" height="6.0"/><rect x="627.5" y="990.5" width="2" height="4.0"/><rect x="629.5" y="990.5" width="2" height="1.0"/><rect x="631.5" y="987.5" width="2" height="3.0"/><rect x="633.5" y="986.5" width="2" height="4.0"/><rect x="635.5" y="986.5" width="2" height="4.0"/><rect x="637.5" y="986.5" width="2" height="4.0"/><rect x="640.5" y="986.5" width="2" height="4.0"/><rect x="642.5" y="986.5" width="2" height="4.0"/><rect x="644.5" y="983.5" width="2" height="7.0"/><rect x="646.5" y="982.5" width="2" height="8.0"/><rect x="648.5" y="982.5" width="2" height="8.0"/><rect x="650.5" y="985.5" width="2" height="5.0"/><rect x="652.5" y="988.5" width="2" height="2.0"/><rect x="655.5" y="990.5" width="2" height="2.0"/><rect x="657.5" y="990.5" width="2" height="6.0"/><rect x="659.5" y="990.5" width="2" height="9.0"/><rect x="661.5" y="990.5" width="2" height="12.0"/><rect x="663.5" y="990.5" width="2" height="19.0"/><rect x="665.5" y="990.5" width="2" height="28.0"/><rect x="667.5" y="990.5" width="2" height="36.0"/><rect x="670.5" y="990.5" width="2" height="41.0"/><rect x="672.5" y="990.5" width="2" height="40.0"/><rect x="674.5" y="990.5" width="2" height="37.0"/><rect x="676.5" y="990.5" width="2" height="31.0"/><rect x="678.5" y="990.5" width="2" height="27.0"/><rect x="680.5" y="990.5" width="2" height="23.0"/><rect x="682.5" y="990.5" width="2" height="19.0"/><rect x="684.5" y="990.5" width="2" height="15.0"/><rect x="687.5" y="990.5" width="2" height="11.0"/><rect x="689.5" y="990.5" width="2" height="8.0"/><rect x="691.5" y="990.5" width="2" height="3.0"/><rect x="693.5" y="988.5" width="2" height="2.0"/><rect x="695.5" y="984.5" width="2" height="6.0"/><rect x="697.5" y="982.5" width="2" height="8.0"/><rect x="699.5" y="980.5" width="2" height="10.0"/><rect x="702.5" y="979.5" width="2" height="11.0"/><rect x="704.5" y="978.5" width="2" height="12.0"/><rect x="706.5" y="977.5" width="2" height="13.0"/><rect x="708.5" y="977.5" width="2" height="13.0"/><rect x="710.5" y="976.5" width="2" height="14.0"/><rect x="712.5" y="975.5" width="2" height="15.0"/><rect x="714.5" y="975.5" width="2" height="15.0"/><rect x="717.5" y="975.5" width="2" height="15.0"/><rect x="719.5" y="977.5" width="2" height="13.0"/><rect x="721.5" y="982.5" width="2" height="8.0"/><rect x="723.5" y="985.5" width="2" height="5.0"/><rect x="725.5" y="987.5" width="2" height="3.0"/><rect x="727.5" y="988.5" width="2" height="2.0"/><rect x="729.5" y="988.5" width="2" height="2.0"/><rect x="731.5" y="990.5" width="2" height="1.0"/><rect x="734.5" y="990.5" width="2" height="4.0"/><rect x="736.5" y="990.5" width="2" height="9.0"/><rect x="738.5" y="990.5" width="2" height="14.0"/><rect x="740.5" y="990.5" width="2" height="13.0"/><rect x="742.5" y="990.5" width="2" height="13.0"/><rect x="744.5" y="990.5" width="2" height="11.0"/><rect x="746.5" y="990.5" width="2" height="9.0"/><rect x="749.5" y="990.5" width="2" height="7.0"/><rect x="751.5" y="990.5" width="2" height="5.0"/><rect x="753.5" y="990.5" width="2" height="4.0"/><rect x="755.5" y="990.5" width="2" height="2.0"/><rect x="757.5" y="989.5" width="2" height="1.0"/><rect x="759.5" y="987.5" width="2" height="3.0"/><rect x="761.5" y="987.5" width="2" height="3.0"/><rect x="763.5" y="987.5" width="2" height="3.0"/><rect x="766.5" y="988.5" width="2" height="2.0"/><rect x="768.5" y="990.5" width="2" height="0.01"/><rect x="770.5" y="990.5" width="2" height="3.0"/><rect x="772.5" y="990.5" width="2" height="7.0"/><rect x="774.5" y="990.5" width="2" height="9.0"/><rect x="776.5" y="990.5" width="2" height="10.0"/><rect x="778.5" y="990.5" width="2" height="10.0"/><rect x="781.5" y="990.5" width="2" height="9.0"/><rect x="783.5" y="990.5" width="2" height="7.0"/><rect x="785.5" y="990.5" width="2" height="6.0"/><rect x="787.5" y="990.5" width="2" height="5.0"/><rect x="789.5" y="990.5" width="2" height="4.0"/><rect x="791.5" y="990.5" width="2" height="4.0"/><rect x="793.5" y="990.5" width="2" height="4.0"/><rect x="796.5" y="990.5" width="2" height="3.0"/></g><polyline points="17.0,992.4 24.0,990.0 34.0,988.0 44.0,988.6 54.0,991.0 65.0,993.0 74.0,992.4 84.0,989.0 94.0,986.0 104.0,985.0 114.0,985.0 124.0,983.4 134.0,979.4 142.0,977.4 150.0,977.4 158.0,979.4 168.0,982.6 176.0,982.0 186.0,980.6 196.0,978.6 206.0,976.6 210.0,976.6 220.0,975.0 230.0,973.0 240.0,975.0 250.0,976.6 258.0,978.0 266.0,983.0 274.0,989.0 282.0,994.0 290.0,995.0 298.0,992.0 306.0,988.0 314.0,984.4 320.0,983.0 326.0,984.4 334.0,987.4 342.0,989.0 350.0,988.6 358.0,989.0 366.0,990.0 374.0,989.4 382.0,988.0 390.0,986.0 398.0,983.6 406.0,982.6 410.0,983.6 418.0,980.6 426.0,977.4 434.0,973.0 440.0,972.4 446.0,975.0 454.0,976.0 464.0,976.4 472.0,977.4 480.0,980.0 486.0,981.0 494.0,978.6 502.0,976.0 510.0,975.0 518.0,978.0 526.0,981.6 534.0,981.6 540.0,978.0 548.0,973.0 556.0,967.0 564.0,959.0 572.0,953.0 580.0,947.0 586.0,942.6 594.0,942.4 600.0,944.0 608.0,950.0 610.0,951.4 617.0,955.0 622.0,961.0 628.0,964.6 636.0,961.4 644.0,958.0 650.0,952.0 654.0,949.4 659.0,953.0 663.0,958.0 667.0,970.0 671.0,987.0 675.0,1004.0 679.0,1019.0 683.0,1030.0 687.0,1037.0 692.0,1042.0 696.0,1040.0 702.0,1034.0 708.0,1025.0 714.0,1013.0 719.0,1005.0 725.0,1000.6 732.0,998.0 737.0,1002.0 742.0,1010.0 748.0,1016.0 754.0,1019.4 760.0,1020.4 766.0,1018.6 771.0,1018.4 776.0,1023.0 782.0,1029.0 788.0,1033.4 796.0,1038.0" fill="none" stroke="#ff0000" stroke-width="1.1" stroke-linejoin="round"/><polyline points="17.0,990.0 24.0,987.4 30.0,986.0 38.0,987.4 46.0,990.4 56.0,992.4 65.0,994.0 74.0,990.4 82.0,987.4 90.0,984.6 98.0,984.4 106.0,985.6 114.0,984.4 122.0,982.0 130.0,978.0 137.0,976.0 144.0,977.0 151.0,978.0 158.0,982.0 165.0,983.0 172.0,982.0 180.0,981.4 190.0,979.4 200.0,977.4 210.0,975.0 218.0,974.0 224.0,971.4 230.0,973.4 238.0,976.0 246.0,978.0 252.0,977.4 258.0,982.0 264.0,989.0 270.0,994.0 276.0,996.0 283.0,997.0 290.0,994.0 296.0,990.0 302.0,985.0 308.0,981.6 316.0,980.4 322.0,983.0 328.0,988.0 334.0,990.0 340.0,990.0 346.0,988.0 350.0,988.0 356.0,989.4 364.0,990.6 370.0,989.0 378.0,987.4 384.0,985.6 390.0,983.6 398.0,981.6 406.0,983.0 410.0,983.0 416.0,978.6 422.0,976.6 430.0,970.4 436.0,969.4 442.0,976.0 448.0,977.4 456.0,976.0 463.0,975.6 470.0,977.4 476.0,981.0 482.0,983.0 488.0,979.0 494.0,975.6 498.0,976.0 503.0,973.4 508.0,973.6 512.0,977.4 518.0,981.4 524.0,984.0 530.0,983.0 534.0,980.6 539.0,972.0 544.0,969.4 548.0,968.0 554.0,963.4 558.0,961.0 564.0,947.0 568.0,949.0 574.0,943.0 580.0,940.0 583.6,935.4 588.0,942.0 592.0,941.6 598.0,944.0 604.0,954.0 610.0,957.4 614.0,956.6 618.0,966.0 622.0,970.0 626.0,970.0 630.0,964.0 634.0,959.0 638.0,956.0 641.0,956.0 645.0,948.0 649.0,943.6 653.0,945.0 657.0,953.0 659.0,962.0 662.0,967.0 665.0,981.0 668.0,1005.0 671.0,1029.0 675.0,1043.0 679.0,1047.0 683.0,1053.0 687.0,1051.4 691.0,1049.0 694.0,1041.0 698.0,1029.0 704.0,1019.0 710.0,1007.0 716.0,994.0 720.0,990.6 724.0,994.6 730.0,996.6 734.0,1000.0 738.0,1013.0 742.0,1023.0 745.0,1025.0 749.0,1023.0 753.0,1025.0 757.0,1023.0 761.0,1017.0 764.0,1015.4 768.0,1018.4 772.0,1026.0 776.0,1033.0 780.0,1039.4 786.0,1038.4 791.0,1041.0 796.0,1042.6" fill="none" stroke="#000" stroke-width="1.7" stroke-linejoin="round"/><text x="873" y="944.3" font-size="9.2" font-weight="normal" fill="#000" text-anchor="end" textLength="11.2" lengthAdjust="spacingAndGlyphs" >20</text><text x="873" y="969.1" font-size="9.2" font-weight="normal" fill="#000" text-anchor="end" textLength="11.2" lengthAdjust="spacingAndGlyphs" >10</text><text x="873" y="993.9" font-size="9.2" font-weight="normal" fill="#000" text-anchor="end" textLength="5" lengthAdjust="spacingAndGlyphs" >0</text><text x="873" y="1018.6999999999999" font-size="9.2" font-weight="normal" fill="#000" text-anchor="end" textLength="14" lengthAdjust="spacingAndGlyphs" >-10</text><text x="873" y="1043.5" font-size="9.2" font-weight="normal" fill="#000" text-anchor="end" textLength="14" lengthAdjust="spacingAndGlyphs" >-20</text><path d="M856.0,930.5h1 M856.0,935.5h1 M856.0,940.5h1 M856.0,945.5h1 M856.0,950.5h1 M856.0,955.5h1 M856.0,960.5h1 M856.0,965.5h1 M856.0,970.5h1 M856.0,975.5h1 M856.0,980.5h1 M856.0,985.5h1 M856.0,990.5h1 M856.0,995.5h1 M856.0,1000.5h1 M856.0,1005.5h1 M856.0,1010.5h1 M856.0,1015.5h1 M856.0,1020.5h1 M856.0,1025.5h1 M856.0,1030.5h1 M856.0,1035.5h1 M856.0,1040.5h1 M856.0,1045.5h1 M856.0,1050.5h1 M856.0,1054.5h1 M856.0,940.5h2 M856.0,965.5h2 M856.0,990.5h2 M856.0,1015.5h2 M856.0,1040.5h2" stroke="#b2b2b2" stroke-width="1" fill="none" shape-rendering="crispEdges"/><line x1="19" y1="934.8" x2="28" y2="934.8" stroke="#000" stroke-width="2.6"/><text x="31.6" y="938.7" font-size="10" font-weight="normal" fill="#000" text-anchor="start" textLength="133" lengthAdjust="spacingAndGlyphs" >MACD(12,26,9) -20.457</text><text x="165" y="938.7" font-size="10" font-weight="normal" fill="#ff0000" text-anchor="start" textLength="52" lengthAdjust="spacingAndGlyphs" >, -19.007</text><text x="217.5" y="938.7" font-size="10" font-weight="normal" fill="#2a86c0" text-anchor="start" textLength="44" lengthAdjust="spacingAndGlyphs" >, -1.449</text><rect x="905.5" y="939.6" width="6.0" height="4.2" fill="#5aa6d2" stroke="#1f6e9e" stroke-width="1"/><rect x="911.5" y="935.2" width="5" height="8.6" fill="#5aa6d2" stroke="#1f6e9e" stroke-width="1"/><rect x="916.5" y="938.5" width="5" height="5.3" fill="#5aa6d2" stroke="#1f6e9e" stroke-width="1"/><rect x="921.5" y="943.8" width="5" height="1.0" fill="#5aa6d2" stroke="#1f6e9e" stroke-width="1"/><rect x="926.5" y="943.8" width="5" height="3.8" fill="#5aa6d2" stroke="#1f6e9e" stroke-width="1"/><rect x="931.5" y="943.8" width="5" height="10.5" fill="#5aa6d2" stroke="#1f6e9e" stroke-width="1"/><rect x="936.5" y="943.8" width="5" height="17.2" fill="#5aa6d2" stroke="#1f6e9e" stroke-width="1"/><rect x="941.5" y="943.8" width="5" height="17.2" fill="#5aa6d2" stroke="#1f6e9e" stroke-width="1"/><rect x="946.5" y="943.8" width="5" height="20.6" fill="#5aa6d2" stroke="#1f6e9e" stroke-width="1"/><rect x="951.5" y="943.8" width="5" height="23.8" fill="#5aa6d2" stroke="#1f6e9e" stroke-width="1"/><rect x="956.5" y="943.8" width="5" height="19.6" fill="#5aa6d2" stroke="#1f6e9e" stroke-width="1"/><rect x="961.5" y="943.8" width="5" height="13.3" fill="#5aa6d2" stroke="#1f6e9e" stroke-width="1"/><rect x="966.5" y="943.8" width="5" height="11.1" fill="#5aa6d2" stroke="#1f6e9e" stroke-width="1"/><rect x="971.5" y="943.8" width="5" height="9.2" fill="#5aa6d2" stroke="#1f6e9e" stroke-width="1"/><rect x="976.5" y="943.8" width="5" height="9.9" fill="#5aa6d2" stroke="#1f6e9e" stroke-width="1"/><rect x="981.5" y="943.8" width="5" height="9.2" fill="#5aa6d2" stroke="#1f6e9e" stroke-width="1"/><rect x="986.5" y="943.8" width="5" height="10.5" fill="#5aa6d2" stroke="#1f6e9e" stroke-width="1"/><rect x="991.5" y="943.8" width="5" height="8.2" fill="#5aa6d2" stroke="#1f6e9e" stroke-width="1"/><polyline points="905.8,1007.1 913.4,1004.3 920.5,1002.4 928.5,1003.3 933.4,1005.6 938.6,1009.0 943.3,1013.2 948.5,1018.6 953.6,1024.7 958.6,1029.4 963.7,1032.9 968.7,1035.7 973.4,1038.0 978.6,1039.9 983.3,1041.8 988.5,1044.5 993.6,1046.4" fill="none" stroke="#ff0000" stroke-width="1.2" stroke-linejoin="round"/><polyline points="905.8,1003.7 913.8,995.7 918.6,995.7 923.3,1002.4 928.5,1005.6 933.4,1015.7 938.6,1026.2 943.3,1030.4 948.5,1038.6 953.6,1046.2 958.6,1048.1 963.7,1045.2 968.7,1046.2 973.4,1045.2 978.6,1049.4 983.3,1050.4 988.5,1052.9 993.6,1052.9" fill="none" stroke="#000" stroke-width="1.75" stroke-linejoin="round"/><text x="1027.5" y="933.9" font-size="9.2" font-weight="normal" fill="#000" text-anchor="end" textLength="14" lengthAdjust="spacingAndGlyphs" >2.5</text><text x="1027.5" y="947.1999999999999" font-size="9.2" font-weight="normal" fill="#000" text-anchor="end" textLength="14" lengthAdjust="spacingAndGlyphs" >0.0</text><text x="1027.5" y="960.5" font-size="9.2" font-weight="normal" fill="#000" text-anchor="end" textLength="17.8" lengthAdjust="spacingAndGlyphs" >-2.5</text><text x="1027.5" y="973.8" font-size="9.2" font-weight="normal" fill="#000" text-anchor="end" textLength="17.8" lengthAdjust="spacingAndGlyphs" >-5.0</text><text x="1027.5" y="987.1" font-size="9.2" font-weight="normal" fill="#000" text-anchor="end" textLength="17.8" lengthAdjust="spacingAndGlyphs" >-7.5</text><text x="1027.5" y="1000.4" font-size="9.2" font-weight="normal" fill="#000" text-anchor="end" textLength="23.5" lengthAdjust="spacingAndGlyphs" >-10.0</text><text x="1027.5" y="1013.6999999999999" font-size="9.2" font-weight="normal" fill="#000" text-anchor="end" textLength="23.5" lengthAdjust="spacingAndGlyphs" >-12.5</text><text x="1027.5" y="1027.0" font-size="9.2" font-weight="normal" fill="#000" text-anchor="end" textLength="23.5" lengthAdjust="spacingAndGlyphs" >-15.0</text><text x="1027.5" y="1040.3000000000002" font-size="9.2" font-weight="normal" fill="#000" text-anchor="end" textLength="23.5" lengthAdjust="spacingAndGlyphs" >-17.5</text><text x="1027.5" y="1053.6000000000001" font-size="9.2" font-weight="normal" fill="#000" text-anchor="end" textLength="23.5" lengthAdjust="spacingAndGlyphs" >-20.0</text><path d="M1001.0,930.5h2 M1001.0,943.5h2 M1001.0,957.5h2 M1001.0,970.5h2 M1001.0,983.5h2 M1001.0,997.5h2 M1001.0,1010.5h2 M1001.0,1023.5h2 M1001.0,1036.5h2 M1001.0,1050.5h2" stroke="#b2b2b2" stroke-width="1" fill="none" shape-rendering="crispEdges"/><line x1="16.5" y1="1091.5" x2="855.5" y2="1091.5" stroke="#6a6a6a" stroke-width="1"/><line x1="905.5" y1="1091.5" x2="1000.5" y2="1091.5" stroke="#6a6a6a" stroke-width="1"/><line x1="16.5" y1="1162.5" x2="855.5" y2="1162.5" stroke="#6a6a6a" stroke-width="1"/><line x1="905.5" y1="1162.5" x2="1000.5" y2="1162.5" stroke="#6a6a6a" stroke-width="1"/><line x1="18.0" y1="1126.5" x2="855.5" y2="1126.5" stroke="#666" stroke-width="1" stroke-dasharray="8.5,3,2,2.5"/><line x1="907.5" y1="1126.5" x2="1000.5" y2="1126.5" stroke="#666" stroke-width="1" stroke-dasharray="8.5,3,2,2.5"/><polyline points="17.0,1077.0 22.0,1073.0 29.0,1072.0 32.0,1087.0 35.0,1105.0 38.0,1113.0 41.0,1115.0 44.0,1127.0 47.0,1151.0 49.0,1167.0 52.0,1169.0 55.0,1166.0 59.0,1166.0 63.0,1170.0 66.0,1169.0 69.0,1151.0 71.0,1131.0 73.0,1109.0 75.0,1091.0 77.0,1077.0 80.0,1071.4 88.0,1072.0 92.0,1077.0 95.0,1088.0 98.0,1091.0 101.0,1092.0 104.0,1103.0 107.0,1117.0 109.4,1121.0 112.0,1109.0 114.0,1093.0 117.0,1080.0 120.0,1074.0 126.0,1071.0 140.0,1072.0 144.0,1077.0 147.0,1079.0 150.0,1079.0 153.0,1083.0 155.6,1101.0 157.6,1125.0 160.0,1147.0 162.0,1143.0 165.0,1129.0 168.0,1113.0 170.0,1097.0 172.4,1079.0 175.0,1073.0 178.0,1075.0 181.0,1078.6 184.0,1077.4 187.0,1075.0 190.0,1074.4 198.0,1073.4 202.0,1073.0 205.0,1077.0 208.0,1075.0 212.0,1073.4 220.0,1072.6 225.0,1074.0 228.0,1085.0 231.0,1094.0 234.0,1100.0 237.0,1102.0 240.0,1098.0 243.0,1091.0 246.0,1091.0 249.0,1101.0 251.4,1097.0 253.6,1085.0 256.0,1081.0 258.4,1099.0 261.0,1119.0 263.6,1137.0 266.4,1155.0 269.0,1167.0 271.6,1170.0 274.0,1167.0 277.0,1162.0 280.0,1159.0 282.4,1162.0 285.0,1161.0 287.6,1153.0 289.6,1135.0 292.0,1113.0 294.0,1097.0 296.4,1085.0 299.0,1078.0 302.0,1076.0 305.0,1075.0 308.0,1072.6 311.0,1074.0 314.0,1080.0 317.0,1085.0 319.6,1095.0 322.0,1109.0 325.6,1129.0 328.4,1149.0 330.6,1167.0 333.0,1169.0 335.0,1157.0 337.4,1145.0 340.0,1137.0 343.0,1130.0 345.6,1117.0 348.0,1099.0 350.4,1085.0 352.6,1084.0 355.0,1093.0 358.0,1105.0 361.0,1117.0 364.0,1128.0 366.4,1127.0 369.0,1109.0 371.6,1093.0 374.4,1089.0 377.6,1088.0 380.6,1085.0 383.0,1078.0 385.6,1073.0 389.0,1074.0 392.0,1075.0 395.0,1072.0 398.0,1073.0 401.0,1082.0 404.0,1089.0 407.0,1098.0 409.6,1100.0 410.0,1098.0 413.0,1081.0 415.6,1073.0 418.0,1079.0 421.0,1086.0 423.6,1085.0 426.4,1075.0 429.4,1071.0 432.4,1074.4 435.0,1075.0 438.0,1079.0 440.4,1095.0 443.0,1123.0 445.6,1141.0 448.0,1127.0 450.6,1107.0 453.0,1095.0 455.6,1089.0 458.4,1085.0 461.6,1077.0 464.0,1074.0 466.4,1076.0 469.0,1083.0 471.6,1089.0 474.0,1095.0 476.4,1111.0 479.0,1135.0 481.4,1152.0 483.4,1153.0 485.6,1131.0 488.0,1101.0 490.4,1079.0 492.4,1071.0 495.0,1073.0 497.4,1079.0 500.0,1081.0 502.4,1079.0 505.0,1075.0 508.0,1075.0 510.4,1080.0 513.0,1097.0 515.4,1121.0 518.0,1141.0 520.0,1147.0 522.4,1141.0 525.0,1135.0 527.6,1125.0 530.0,1113.0 532.4,1101.0 535.0,1086.0 537.4,1073.0 540.0,1069.0 543.0,1072.0 546.0,1075.0 549.0,1075.0 552.0,1072.6 555.0,1073.0 558.0,1074.4 561.0,1073.0 564.0,1071.0 566.6,1077.0 569.0,1091.0 571.6,1100.0 574.0,1090.0 576.6,1079.0 579.6,1074.0 582.4,1072.0 585.0,1074.0 587.4,1085.0 590.0,1097.0 593.0,1093.0 596.0,1085.0 598.6,1082.0 601.0,1089.0 603.6,1107.0 606.0,1127.0 608.4,1134.0 610.0,1132.0 612.4,1111.0 615.0,1089.0 617.0,1085.0 619.0,1105.0 621.4,1127.0 623.4,1139.0 626.0,1135.0 628.4,1113.0 631.0,1089.0 633.4,1075.0 636.0,1070.0 639.6,1071.0 642.4,1076.0 645.4,1077.4 648.0,1074.0 650.6,1073.0 653.4,1080.0 656.4,1093.0 658.6,1113.0 661.0,1135.0 663.4,1151.0 666.0,1161.0 668.6,1166.0 671.0,1168.6 673.6,1168.0 676.0,1163.0 678.6,1156.0 681.4,1153.4 684.0,1154.6 687.0,1155.0 689.6,1153.0 692.4,1148.0 695.0,1135.0 697.0,1113.0 699.4,1087.0 702.0,1077.0 705.0,1075.0 708.0,1074.0 711.0,1073.0 714.0,1070.6 717.0,1068.6 720.0,1071.0 722.4,1083.0 724.4,1109.0 726.6,1135.0 729.0,1147.0 731.6,1148.0 734.4,1151.0 737.0,1163.0 739.4,1173.0 742.0,1176.0 744.4,1173.0 747.0,1165.0 749.6,1156.0 752.4,1151.0 755.0,1152.0 758.0,1153.0 761.0,1143.0 763.6,1131.0 766.0,1128.0 768.0,1131.0 770.4,1149.0 773.0,1164.0 775.6,1171.0 778.6,1176.0 782.0,1178.4 784.6,1175.0 787.0,1167.0 789.4,1166.0 792.0,1171.0 794.4,1175.0 796.6,1175.0" fill="none" stroke="#ff0000" stroke-width="1.1" stroke-linejoin="round"/><polyline points="17.0,1079.0 19.0,1074.0 24.0,1072.0 29.0,1073.0 32.0,1095.0 35.0,1118.0 38.0,1111.0 41.0,1117.0 44.0,1139.0 46.0,1163.0 47.6,1173.0 50.0,1168.4 52.0,1169.4 55.0,1164.0 58.0,1167.0 61.0,1169.6 64.0,1170.6 67.0,1163.0 69.0,1135.0 71.0,1107.0 73.0,1091.0 75.0,1074.0 78.0,1071.0 86.0,1072.0 90.0,1074.0 92.0,1085.0 96.0,1094.0 99.0,1089.0 102.0,1097.0 105.0,1115.0 107.6,1125.0 110.0,1115.0 112.0,1095.0 114.0,1081.0 117.0,1074.0 122.0,1071.0 138.0,1072.0 141.0,1075.0 144.4,1081.0 147.6,1077.4 150.0,1080.0 153.0,1089.0 155.0,1115.0 157.0,1143.0 158.6,1155.0 161.0,1135.0 164.0,1121.0 167.0,1105.0 169.0,1089.0 171.0,1074.0 174.0,1072.0 177.0,1076.0 180.0,1079.4 183.0,1077.0 185.0,1074.4 188.0,1075.0 191.0,1073.4 197.0,1073.4 201.0,1072.0 203.6,1078.0 206.0,1077.0 208.0,1074.0 214.0,1072.6 220.0,1072.0 225.0,1073.4 228.0,1095.0 231.0,1100.0 233.6,1100.6 235.6,1104.0 239.6,1097.0 241.4,1083.0 244.0,1093.0 248.4,1107.0 250.4,1095.0 252.4,1076.0 254.4,1074.0 256.4,1091.0 259.0,1121.0 261.6,1139.0 264.4,1157.0 267.6,1174.0 270.0,1168.0 272.0,1168.0 275.0,1163.0 278.4,1156.0 280.4,1161.0 282.6,1165.0 285.0,1159.0 287.0,1145.0 289.0,1123.0 291.0,1101.0 293.0,1090.0 295.4,1079.0 297.4,1078.0 299.4,1072.0 301.4,1077.4 303.4,1075.0 305.4,1074.4 307.6,1070.6 310.0,1074.0 312.0,1080.0 314.0,1084.0 317.0,1085.0 319.0,1099.0 322.0,1119.0 326.0,1140.0 328.0,1163.0 329.6,1177.0 331.6,1169.0 333.6,1155.0 335.6,1144.0 337.6,1139.0 339.6,1131.0 342.0,1125.0 344.4,1111.0 346.6,1093.0 348.4,1081.0 350.6,1078.6 352.6,1091.0 355.0,1107.0 358.0,1111.0 361.0,1125.0 363.6,1137.0 365.6,1123.0 367.6,1103.0 369.6,1088.0 371.6,1086.0 374.0,1090.0 377.0,1088.0 379.6,1085.0 382.0,1075.0 384.4,1069.0 386.6,1075.0 391.0,1076.0 393.6,1069.0 395.6,1069.0 397.6,1075.0 401.0,1089.0 404.0,1095.0 406.6,1103.0 409.0,1099.0 410.0,1091.0 412.4,1073.0 414.4,1068.0 416.4,1074.0 418.4,1089.0 421.0,1090.6 423.4,1085.0 425.6,1069.0 428.0,1072.0 430.0,1073.0 432.0,1076.0 433.6,1074.0 437.0,1077.0 439.0,1087.0 441.0,1121.0 442.6,1143.0 444.4,1150.0 446.4,1131.0 448.4,1107.0 451.0,1093.0 453.0,1088.0 455.0,1088.0 458.0,1082.0 460.0,1075.0 461.6,1070.6 464.0,1074.0 466.0,1081.0 468.0,1087.0 470.0,1089.0 472.0,1094.0 474.4,1098.0 476.4,1131.0 478.4,1153.0 480.4,1169.0 482.4,1151.0 484.4,1115.0 486.0,1089.0 487.6,1074.0 489.6,1068.0 491.6,1071.0 493.6,1072.0 495.6,1081.0 498.0,1084.0 500.0,1084.0 502.0,1076.0 504.4,1073.0 506.4,1076.0 508.4,1077.0 510.4,1085.0 512.4,1109.0 514.0,1131.0 516.0,1148.0 517.6,1154.0 519.6,1143.0 521.6,1135.0 523.6,1135.0 526.0,1125.0 528.0,1111.0 530.0,1103.0 532.4,1091.0 534.4,1078.0 536.4,1068.0 539.0,1068.0 542.0,1072.0 545.0,1076.0 548.0,1076.0 551.4,1070.0 553.6,1073.0 556.0,1075.0 558.0,1075.0 560.0,1071.0 562.4,1070.0 564.4,1071.0 566.0,1079.0 568.0,1101.0 570.4,1106.0 572.4,1089.0 574.4,1076.0 577.0,1073.0 579.6,1074.0 581.6,1072.0 583.4,1070.0 585.4,1079.0 587.6,1095.0 589.6,1103.0 591.6,1092.0 594.0,1085.0 596.6,1078.0 599.0,1087.0 601.0,1101.0 603.0,1123.0 605.0,1137.0 606.6,1140.0 608.6,1129.0 610.0,1095.0 613.0,1079.0 615.4,1074.4 617.4,1095.0 619.4,1135.0 621.4,1152.0 623.4,1141.0 626.0,1125.0 628.4,1091.0 630.4,1075.0 632.4,1069.0 635.0,1069.4 638.0,1069.4 641.4,1078.0 645.0,1077.0 647.4,1068.0 650.0,1072.0 652.4,1081.0 655.0,1095.0 657.0,1115.0 659.0,1141.0 661.6,1155.0 663.6,1160.0 666.0,1167.0 668.4,1172.0 670.6,1166.0 673.0,1167.0 675.0,1161.0 677.4,1153.0 679.6,1152.6 682.0,1155.0 684.0,1157.0 686.6,1155.0 689.0,1150.0 691.6,1146.0 693.6,1135.0 695.6,1109.0 698.0,1075.0 700.4,1076.0 703.0,1075.0 706.0,1074.0 709.0,1072.6 711.6,1072.0 714.0,1068.0 717.0,1068.0 719.6,1072.0 721.6,1079.0 723.0,1105.0 724.4,1135.0 726.4,1154.0 729.0,1149.0 730.6,1144.0 732.4,1149.0 735.0,1159.0 737.4,1177.0 739.4,1178.4 742.0,1175.0 744.4,1166.0 746.6,1155.0 749.4,1147.0 752.0,1152.0 755.0,1156.0 757.4,1154.0 759.6,1143.0 762.0,1125.0 764.4,1122.6 766.4,1135.0 769.0,1153.0 771.4,1170.0 774.0,1173.0 777.4,1179.0 782.4,1179.0 784.6,1169.0 787.0,1164.6 789.0,1168.0 791.0,1175.0 793.0,1175.6 795.0,1178.0 796.6,1174.0" fill="none" stroke="#000" stroke-width="1.65" stroke-linejoin="round"/><polyline points="905.8,1149.6 909.0,1145.2 913.8,1136.7 918.6,1129.0 923.3,1128.1 928.5,1138.6 933.4,1153.8 938.6,1165.2 943.3,1171.9 948.5,1175.1 953.6,1177.6 958.6,1179.1 963.7,1176.7 968.7,1171.9 973.4,1166.8 978.6,1168.1 983.3,1171.9 988.5,1176.3 993.6,1175.1" fill="none" stroke="#ff0000" stroke-width="1.2" stroke-linejoin="round"/><polyline points="905.8,1141.4 909.0,1136.7 913.4,1124.3 918.6,1122.4 923.3,1138.6 928.5,1153.8 933.4,1170.0 938.6,1171.9 943.3,1173.8 948.5,1179.1 953.6,1179.1 958.6,1179.1 963.7,1169.0 968.7,1164.3 973.4,1165.2 978.6,1174.8 983.3,1175.1 988.5,1178.2 993.6,1173.8" fill="none" stroke="#000" stroke-width="1.75" stroke-linejoin="round"/><text x="859" y="1093.6999999999998" font-size="9.2" font-weight="normal" fill="#000" text-anchor="start" textLength="11.4" lengthAdjust="spacingAndGlyphs" >80</text><text x="1004" y="1093.6999999999998" font-size="9.2" font-weight="normal" fill="#000" text-anchor="start" textLength="11.4" lengthAdjust="spacingAndGlyphs" >80</text><text x="859" y="1129.1" font-size="9.2" font-weight="normal" fill="#000" text-anchor="start" textLength="11.4" lengthAdjust="spacingAndGlyphs" >50</text><text x="1004" y="1129.1" font-size="9.2" font-weight="normal" fill="#000" text-anchor="start" textLength="11.4" lengthAdjust="spacingAndGlyphs" >50</text><text x="859" y="1164.5" font-size="9.2" font-weight="normal" fill="#000" text-anchor="start" textLength="11.4" lengthAdjust="spacingAndGlyphs" >20</text><text x="1004" y="1164.5" font-size="9.2" font-weight="normal" fill="#000" text-anchor="start" textLength="11.4" lengthAdjust="spacingAndGlyphs" >20</text><path d="M856.0,1067.5h1 M856.0,1073.5h1 M856.0,1079.5h1 M856.0,1085.5h1 M856.0,1091.5h1 M856.0,1097.5h1 M856.0,1102.5h1 M856.0,1108.5h1 M856.0,1114.5h1 M856.0,1120.5h1 M856.0,1126.5h1 M856.0,1132.5h1 M856.0,1138.5h1 M856.0,1144.5h1 M856.0,1150.5h1 M856.0,1156.5h1 M856.0,1161.5h1 M856.0,1167.5h1 M856.0,1173.5h1 M856.0,1179.5h1 M856.0,1185.5h1 M856.0,1091.5h2 M856.0,1126.5h2 M856.0,1161.5h2" stroke="#b2b2b2" stroke-width="1" fill="none" shape-rendering="crispEdges"/><path d="M1001.0,1067.5h1 M1001.0,1073.5h1 M1001.0,1079.5h1 M1001.0,1085.5h1 M1001.0,1091.5h1 M1001.0,1097.5h1 M1001.0,1102.5h1 M1001.0,1108.5h1 M1001.0,1114.5h1 M1001.0,1120.5h1 M1001.0,1126.5h1 M1001.0,1132.5h1 M1001.0,1138.5h1 M1001.0,1144.5h1 M1001.0,1150.5h1 M1001.0,1156.5h1 M1001.0,1161.5h1 M1001.0,1167.5h1 M1001.0,1173.5h1 M1001.0,1179.5h1 M1001.0,1185.5h1 M1001.0,1091.5h2 M1001.0,1126.5h2 M1001.0,1161.5h2" stroke="#b2b2b2" stroke-width="1" fill="none" shape-rendering="crispEdges"/><rect x="17" y="1062" width="222" height="11.5" fill="#fff"/><line x1="19" y1="1067" x2="28" y2="1067" stroke="#000" stroke-width="2.6"/><text x="31.6" y="1070.7" font-size="10" font-weight="normal" fill="#000" text-anchor="start" textLength="178" lengthAdjust="spacingAndGlyphs" >Slow STO %K(14) %D(3) 10.70</text><text x="209.6" y="1070.7" font-size="10" font-weight="normal" fill="#ff0000" text-anchor="start" textLength="27" lengthAdjust="spacingAndGlyphs" >, 8.77</text><rect x="16.5" y="28.5" width="839.0" height="754.0" fill="none" stroke="#b2b2b2"/><rect x="16.5" y="796.5" width="839.0" height="396.0" fill="none" stroke="#b2b2b2"/><line x1="16.5" y1="405.5" x2="855.5" y2="405.5" stroke="#b2b2b2"/><line x1="16.5" y1="928.5" x2="855.5" y2="928.5" stroke="#b2b2b2"/><line x1="16.5" y1="1060.5" x2="855.5" y2="1060.5" stroke="#b2b2b2"/><rect x="905.5" y="28.5" width="95.0" height="754.0" fill="none" stroke="#b2b2b2"/><rect x="905.5" y="796.5" width="95.0" height="396.0" fill="none" stroke="#b2b2b2"/><line x1="905.5" y1="405.5" x2="1000.5" y2="405.5" stroke="#b2b2b2"/><line x1="905.5" y1="928.5" x2="1000.5" y2="928.5" stroke="#b2b2b2"/><line x1="905.5" y1="1060.5" x2="1000.5" y2="1060.5" stroke="#b2b2b2"/><text x="647" y="409.8" font-size="10.5" font-weight="bold" fill="#000" text-anchor="start" textLength="6.4" lengthAdjust="spacingAndGlyphs" >H</text></g>
</svg>
</body></html>
